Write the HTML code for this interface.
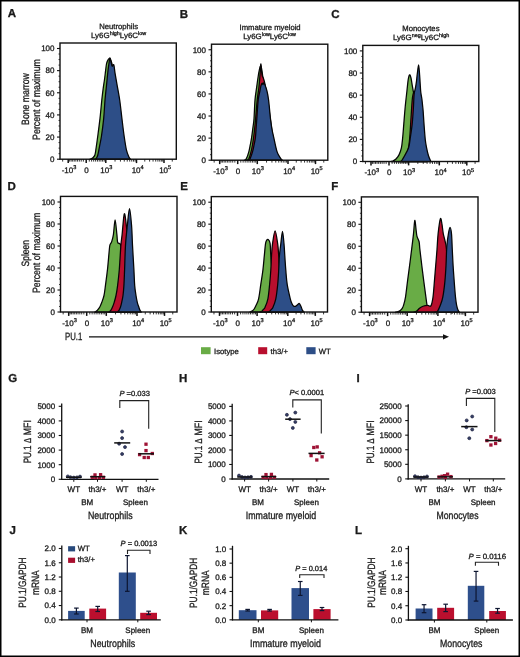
<!DOCTYPE html>
<html><head><meta charset="utf-8"><style>
html,body{margin:0;padding:0;background:#fff;}
svg{display:block;filter:blur(0.3px);font-family:'Liberation Sans', sans-serif;text-rendering:geometricPrecision;}
text{stroke:#1a1a1a;stroke-width:0.3px;}
</style></head><body>
<svg width="520" height="657" viewBox="0 0 520 657">
<rect x="0" y="0" width="520" height="657" fill="#fff"/>
<text x="7.80" y="17.30" font-size="11.5" text-anchor="start" font-weight="bold" font-style="normal" fill="#1a1a1a" >A</text>
<text x="179.80" y="17.50" font-size="11.5" text-anchor="start" font-weight="bold" font-style="normal" fill="#1a1a1a" >B</text>
<text x="331.20" y="17.60" font-size="11.5" text-anchor="start" font-weight="bold" font-style="normal" fill="#1a1a1a" >C</text>
<text x="7.50" y="190.20" font-size="11.5" text-anchor="start" font-weight="bold" font-style="normal" fill="#1a1a1a" >D</text>
<text x="180.20" y="190.20" font-size="11.5" text-anchor="start" font-weight="bold" font-style="normal" fill="#1a1a1a" >E</text>
<text x="331.30" y="190.10" font-size="11.5" text-anchor="start" font-weight="bold" font-style="normal" fill="#1a1a1a" >F</text>
<text x="8.20" y="382.20" font-size="11.5" text-anchor="start" font-weight="bold" font-style="normal" fill="#1a1a1a" >G</text>
<text x="178.90" y="381.60" font-size="11.5" text-anchor="start" font-weight="bold" font-style="normal" fill="#1a1a1a" >H</text>
<text x="356.60" y="381.80" font-size="11.5" text-anchor="start" font-weight="bold" font-style="normal" fill="#1a1a1a" >I</text>
<text x="9.40" y="534.30" font-size="11.5" text-anchor="start" font-weight="bold" font-style="normal" fill="#1a1a1a" >J</text>
<text x="178.90" y="533.90" font-size="11.5" text-anchor="start" font-weight="bold" font-style="normal" fill="#1a1a1a" >K</text>
<text x="354.90" y="534.20" font-size="11.5" text-anchor="start" font-weight="bold" font-style="normal" fill="#1a1a1a" >L</text>
<text x="118.70" y="28.80" font-size="7.7" text-anchor="middle" font-weight="normal" font-style="normal" fill="#1a1a1a" >Neutrophils</text>
<text x="118.60" y="38.00" font-size="7.7" text-anchor="middle" fill="#1a1a1a" textLength="55.2" lengthAdjust="spacingAndGlyphs">Ly6G<tspan font-size="5.24" dy="-2.7">high</tspan><tspan dy="2.7">Ly6C</tspan><tspan font-size="5.24" dy="-2.7">low</tspan></text>
<text x="270.10" y="30.00" font-size="7.7" text-anchor="middle" font-weight="normal" font-style="normal" fill="#1a1a1a" >Immature myeloid</text>
<text x="269.60" y="38.90" font-size="7.7" text-anchor="middle" fill="#1a1a1a" textLength="52.8" lengthAdjust="spacingAndGlyphs">Ly6G<tspan font-size="5.24" dy="-2.7">low</tspan><tspan dy="2.7">Ly6C</tspan><tspan font-size="5.24" dy="-2.7">low</tspan></text>
<text x="420.90" y="31.00" font-size="7.7" text-anchor="middle" font-weight="normal" font-style="normal" fill="#1a1a1a" >Monocytes</text>
<text x="421.10" y="40.00" font-size="7.7" text-anchor="middle" fill="#1a1a1a" textLength="56.2" lengthAdjust="spacingAndGlyphs">Ly6G<tspan font-size="5.24" dy="-2.7">neg</tspan><tspan dy="2.7">Ly6C</tspan><tspan font-size="5.24" dy="-2.7">high</tspan></text>
<text x="0" y="0" font-size="10.6" text-anchor="middle" fill="#1a1a1a" textLength="51.7" lengthAdjust="spacingAndGlyphs" transform="translate(28.50,99.05) rotate(-90)">Bone marrow</text>
<text x="0" y="0" font-size="10.6" text-anchor="middle" fill="#1a1a1a" textLength="80.8" lengthAdjust="spacingAndGlyphs" transform="translate(40.00,99.50) rotate(-90)">Percent of maximum</text>
<text x="0" y="0" font-size="10.6" text-anchor="middle" fill="#1a1a1a" textLength="26.4" lengthAdjust="spacingAndGlyphs" transform="translate(28.50,253.20) rotate(-90)">Spleen</text>
<text x="0" y="0" font-size="10.6" text-anchor="middle" fill="#1a1a1a" textLength="80.4" lengthAdjust="spacingAndGlyphs" transform="translate(40.10,252.80) rotate(-90)">Percent of maximum</text>
<path d="M90.00,159.20 C90.00,159.20 89.58,159.38 90.00,159.20 C90.42,159.02 91.68,158.79 92.50,158.09 C93.32,157.39 94.30,156.67 94.90,154.99 C95.50,153.31 95.63,151.10 96.10,148.02 C96.57,144.94 97.05,141.45 97.70,136.51 C98.35,131.56 99.32,124.44 100.00,118.35 C100.68,112.26 101.27,104.98 101.80,99.98 C102.33,94.98 102.75,91.77 103.20,88.35 C103.65,84.94 104.10,82.45 104.50,79.50 C104.90,76.54 105.25,73.32 105.60,70.64 C105.95,67.96 106.17,65.29 106.60,63.44 C107.03,61.60 107.63,60.40 108.20,59.57 C108.77,58.74 109.37,57.72 110.00,58.46 C110.63,59.20 111.25,61.23 112.00,64.00 C112.75,66.77 113.67,70.27 114.50,75.07 C115.33,79.86 116.08,86.14 117.00,92.78 C117.92,99.42 119.00,107.54 120.00,114.92 C121.00,122.30 122.08,131.16 123.00,137.06 C123.92,142.96 124.67,146.93 125.50,150.34 C126.33,153.76 127.33,156.06 128.00,157.54 C128.67,159.02 129.25,158.92 129.50,159.20 C129.75,159.48 129.50,159.20 129.50,159.20 Z" fill="#69ac46" stroke="#050505" stroke-width="1.25" stroke-linejoin="round"/>
<path d="M95.50,159.20 C95.50,159.20 95.32,159.42 95.50,159.20 C95.68,158.98 96.22,158.57 96.60,157.87 C96.98,157.17 97.37,156.64 97.80,154.99 C98.23,153.35 98.60,151.10 99.20,148.02 C99.80,144.94 100.65,141.45 101.40,136.51 C102.15,131.56 103.10,124.44 103.70,118.35 C104.30,112.26 104.50,105.81 105.00,99.98 C105.50,94.15 106.20,88.26 106.70,83.37 C107.20,78.48 107.58,74.24 108.00,70.64 C108.42,67.04 108.85,63.87 109.20,61.78 C109.55,59.70 109.77,57.95 110.10,58.13 C110.43,58.32 110.85,61.54 111.20,62.89 C111.55,64.24 111.77,65.90 112.20,66.21 C112.63,66.53 113.33,63.67 113.80,64.77 C114.27,65.88 114.50,69.75 115.00,72.85 C115.50,75.95 116.02,78.85 116.80,83.37 C117.58,87.89 118.85,94.15 119.70,99.98 C120.55,105.81 121.15,112.26 121.90,118.35 C122.65,124.44 123.43,131.19 124.20,136.51 C124.97,141.82 125.73,146.88 126.50,150.23 C127.27,153.59 128.13,155.16 128.80,156.65 C129.47,158.15 130.22,158.78 130.50,159.20 C130.78,159.62 130.50,159.20 130.50,159.20 Z" fill="#2d4e87" stroke="#050505" stroke-width="1.25" stroke-linejoin="round"/>
<rect x="60.00" y="43.00" width="116.30" height="116.20" fill="none" stroke="#111" stroke-width="1.4"/>
<line x1="57.00" y1="159.20" x2="60.00" y2="159.20" stroke="#111" stroke-width="1.1"/>
<text x="54.50" y="162.00" font-size="8" text-anchor="end" font-weight="normal" font-style="normal" fill="#1a1a1a" >0</text>
<line x1="57.00" y1="137.06" x2="60.00" y2="137.06" stroke="#111" stroke-width="1.1"/>
<text x="54.50" y="139.86" font-size="8" text-anchor="end" font-weight="normal" font-style="normal" fill="#1a1a1a" >20</text>
<line x1="57.00" y1="114.92" x2="60.00" y2="114.92" stroke="#111" stroke-width="1.1"/>
<text x="54.50" y="117.72" font-size="8" text-anchor="end" font-weight="normal" font-style="normal" fill="#1a1a1a" >40</text>
<line x1="57.00" y1="92.78" x2="60.00" y2="92.78" stroke="#111" stroke-width="1.1"/>
<text x="54.50" y="95.58" font-size="8" text-anchor="end" font-weight="normal" font-style="normal" fill="#1a1a1a" >60</text>
<line x1="57.00" y1="70.64" x2="60.00" y2="70.64" stroke="#111" stroke-width="1.1"/>
<text x="54.50" y="73.44" font-size="8" text-anchor="end" font-weight="normal" font-style="normal" fill="#1a1a1a" >80</text>
<line x1="57.00" y1="48.50" x2="60.00" y2="48.50" stroke="#111" stroke-width="1.1"/>
<text x="54.50" y="51.30" font-size="8" text-anchor="end" font-weight="normal" font-style="normal" fill="#1a1a1a" >100</text>
<line x1="58.50" y1="153.66" x2="60.00" y2="153.66" stroke="#111" stroke-width="0.8"/>
<line x1="58.50" y1="148.13" x2="60.00" y2="148.13" stroke="#111" stroke-width="0.8"/>
<line x1="58.50" y1="142.59" x2="60.00" y2="142.59" stroke="#111" stroke-width="0.8"/>
<line x1="58.50" y1="131.52" x2="60.00" y2="131.52" stroke="#111" stroke-width="0.8"/>
<line x1="58.50" y1="125.99" x2="60.00" y2="125.99" stroke="#111" stroke-width="0.8"/>
<line x1="58.50" y1="120.45" x2="60.00" y2="120.45" stroke="#111" stroke-width="0.8"/>
<line x1="58.50" y1="109.38" x2="60.00" y2="109.38" stroke="#111" stroke-width="0.8"/>
<line x1="58.50" y1="103.85" x2="60.00" y2="103.85" stroke="#111" stroke-width="0.8"/>
<line x1="58.50" y1="98.31" x2="60.00" y2="98.31" stroke="#111" stroke-width="0.8"/>
<line x1="58.50" y1="87.24" x2="60.00" y2="87.24" stroke="#111" stroke-width="0.8"/>
<line x1="58.50" y1="81.71" x2="60.00" y2="81.71" stroke="#111" stroke-width="0.8"/>
<line x1="58.50" y1="76.17" x2="60.00" y2="76.17" stroke="#111" stroke-width="0.8"/>
<line x1="58.50" y1="65.10" x2="60.00" y2="65.10" stroke="#111" stroke-width="0.8"/>
<line x1="58.50" y1="59.57" x2="60.00" y2="59.57" stroke="#111" stroke-width="0.8"/>
<line x1="58.50" y1="54.03" x2="60.00" y2="54.03" stroke="#111" stroke-width="0.8"/>
<line x1="68.20" y1="159.20" x2="68.20" y2="163.10" stroke="#111" stroke-width="1.5"/>
<line x1="86.20" y1="159.20" x2="86.20" y2="163.10" stroke="#111" stroke-width="1.5"/>
<line x1="105.80" y1="159.20" x2="105.80" y2="163.10" stroke="#111" stroke-width="1.5"/>
<line x1="136.50" y1="159.20" x2="136.50" y2="163.10" stroke="#111" stroke-width="1.5"/>
<line x1="164.00" y1="159.20" x2="164.00" y2="163.10" stroke="#111" stroke-width="1.5"/>
<line x1="115.04" y1="159.20" x2="115.04" y2="161.60" stroke="#111" stroke-width="0.85"/>
<line x1="144.78" y1="159.20" x2="144.78" y2="161.60" stroke="#111" stroke-width="0.85"/>
<line x1="120.45" y1="159.20" x2="120.45" y2="161.60" stroke="#111" stroke-width="0.85"/>
<line x1="149.62" y1="159.20" x2="149.62" y2="161.60" stroke="#111" stroke-width="0.85"/>
<line x1="124.28" y1="159.20" x2="124.28" y2="161.60" stroke="#111" stroke-width="0.85"/>
<line x1="153.06" y1="159.20" x2="153.06" y2="161.60" stroke="#111" stroke-width="0.85"/>
<line x1="127.26" y1="159.20" x2="127.26" y2="161.60" stroke="#111" stroke-width="0.85"/>
<line x1="155.72" y1="159.20" x2="155.72" y2="161.60" stroke="#111" stroke-width="0.85"/>
<line x1="129.69" y1="159.20" x2="129.69" y2="161.60" stroke="#111" stroke-width="0.85"/>
<line x1="157.90" y1="159.20" x2="157.90" y2="161.60" stroke="#111" stroke-width="0.85"/>
<line x1="131.74" y1="159.20" x2="131.74" y2="161.60" stroke="#111" stroke-width="0.85"/>
<line x1="159.74" y1="159.20" x2="159.74" y2="161.60" stroke="#111" stroke-width="0.85"/>
<line x1="133.52" y1="159.20" x2="133.52" y2="161.60" stroke="#111" stroke-width="0.85"/>
<line x1="161.33" y1="159.20" x2="161.33" y2="161.60" stroke="#111" stroke-width="0.85"/>
<line x1="135.10" y1="159.20" x2="135.10" y2="161.60" stroke="#111" stroke-width="0.85"/>
<line x1="162.74" y1="159.20" x2="162.74" y2="161.60" stroke="#111" stroke-width="0.85"/>
<line x1="172.28" y1="159.20" x2="172.28" y2="161.60" stroke="#111" stroke-width="0.85"/>
<line x1="89.31" y1="159.20" x2="89.31" y2="161.60" stroke="#111" stroke-width="0.85"/>
<line x1="83.35" y1="159.20" x2="83.35" y2="161.60" stroke="#111" stroke-width="0.85"/>
<line x1="91.61" y1="159.20" x2="91.61" y2="161.60" stroke="#111" stroke-width="0.85"/>
<line x1="81.23" y1="159.20" x2="81.23" y2="161.60" stroke="#111" stroke-width="0.85"/>
<line x1="93.68" y1="159.20" x2="93.68" y2="161.60" stroke="#111" stroke-width="0.85"/>
<line x1="79.33" y1="159.20" x2="79.33" y2="161.60" stroke="#111" stroke-width="0.85"/>
<line x1="95.62" y1="159.20" x2="95.62" y2="161.60" stroke="#111" stroke-width="0.85"/>
<line x1="77.55" y1="159.20" x2="77.55" y2="161.60" stroke="#111" stroke-width="0.85"/>
<line x1="97.46" y1="159.20" x2="97.46" y2="161.60" stroke="#111" stroke-width="0.85"/>
<line x1="75.86" y1="159.20" x2="75.86" y2="161.60" stroke="#111" stroke-width="0.85"/>
<line x1="99.22" y1="159.20" x2="99.22" y2="161.60" stroke="#111" stroke-width="0.85"/>
<line x1="74.24" y1="159.20" x2="74.24" y2="161.60" stroke="#111" stroke-width="0.85"/>
<line x1="100.93" y1="159.20" x2="100.93" y2="161.60" stroke="#111" stroke-width="0.85"/>
<line x1="72.67" y1="159.20" x2="72.67" y2="161.60" stroke="#111" stroke-width="0.85"/>
<line x1="102.60" y1="159.20" x2="102.60" y2="161.60" stroke="#111" stroke-width="0.85"/>
<line x1="71.14" y1="159.20" x2="71.14" y2="161.60" stroke="#111" stroke-width="0.85"/>
<line x1="104.22" y1="159.20" x2="104.22" y2="161.60" stroke="#111" stroke-width="0.85"/>
<line x1="69.66" y1="159.20" x2="69.66" y2="161.60" stroke="#111" stroke-width="0.85"/>
<line x1="62.66" y1="159.20" x2="62.66" y2="161.60" stroke="#111" stroke-width="0.85"/>
<text x="69.00" y="172.70" font-size="8" text-anchor="middle" fill="#1a1a1a">-10<tspan font-size="5.6" dy="-3.3">3</tspan></text>
<text x="86.50" y="172.70" font-size="8" text-anchor="middle" font-weight="normal" font-style="normal" fill="#1a1a1a" >0</text>
<text x="106.30" y="172.70" font-size="8" text-anchor="middle" fill="#1a1a1a">10<tspan font-size="5.6" dy="-3.3">3</tspan></text>
<text x="137.70" y="172.70" font-size="8" text-anchor="middle" fill="#1a1a1a">10<tspan font-size="5.6" dy="-3.3">4</tspan></text>
<text x="165.20" y="172.70" font-size="8" text-anchor="middle" fill="#1a1a1a">10<tspan font-size="5.6" dy="-3.3">5</tspan></text>
<path d="M244.50,160.20 C244.50,160.20 244.18,160.48 244.50,160.20 C244.82,159.92 245.68,159.92 246.40,158.54 C247.12,157.16 248.15,154.22 248.80,151.92 C249.45,149.62 249.83,147.11 250.30,144.74 C250.77,142.36 251.15,140.61 251.60,137.67 C252.05,134.72 252.60,130.19 253.00,127.06 C253.40,123.94 253.67,123.40 254.00,118.89 C254.33,114.38 254.57,105.21 255.00,100.00 C255.43,94.80 256.07,91.59 256.60,87.63 C257.13,83.68 257.73,79.26 258.20,76.26 C258.67,73.26 259.02,71.38 259.40,69.63 C259.78,67.88 260.13,65.95 260.50,65.77 C260.87,65.58 261.18,66.41 261.60,68.53 C262.02,70.64 262.43,74.23 263.00,78.47 C263.57,82.70 264.25,88.04 265.00,93.93 C265.75,99.82 266.67,107.37 267.50,113.81 C268.33,120.25 269.08,126.70 270.00,132.59 C270.92,138.48 272.00,145.01 273.00,149.16 C274.00,153.30 275.00,155.60 276.00,157.44 C277.00,159.28 278.50,159.74 279.00,160.20 C279.50,160.66 279.00,160.20 279.00,160.20 Z" fill="#69ac46" stroke="#050505" stroke-width="1.25" stroke-linejoin="round"/>
<path d="M247.50,160.20 C247.50,160.20 247.25,160.48 247.50,160.20 C247.75,159.92 248.42,159.92 249.00,158.54 C249.58,157.16 250.42,154.22 251.00,151.92 C251.58,149.62 252.07,147.11 252.50,144.74 C252.93,142.36 253.22,140.61 253.60,137.67 C253.98,134.72 254.47,130.19 254.80,127.06 C255.13,123.94 255.20,123.40 255.60,118.89 C256.00,114.38 256.65,105.21 257.20,100.00 C257.75,94.80 258.45,91.59 258.90,87.63 C259.35,83.68 259.58,80.20 259.90,76.26 C260.22,72.32 260.52,64.73 260.80,64.00 C261.08,63.26 261.33,69.80 261.60,71.84 C261.87,73.88 262.12,75.25 262.40,76.26 C262.68,77.27 262.98,77.09 263.30,77.91 C263.62,78.74 263.92,79.66 264.30,81.23 C264.68,82.79 265.18,85.19 265.60,87.30 C266.02,89.42 266.32,90.98 266.80,93.93 C267.28,96.88 267.88,100.56 268.50,104.97 C269.12,109.39 269.75,115.10 270.50,120.44 C271.25,125.78 271.92,131.58 273.00,137.01 C274.08,142.44 275.67,149.16 277.00,153.02 C278.33,156.89 280.33,159.00 281.00,160.20 C281.67,161.40 281.00,160.20 281.00,160.20 Z" fill="#b80f2e" stroke="#050505" stroke-width="1.25" stroke-linejoin="round"/>
<path d="M249.00,160.20 C249.00,160.20 248.80,160.48 249.00,160.20 C249.20,159.92 249.62,159.92 250.20,158.54 C250.78,157.16 251.85,154.22 252.50,151.92 C253.15,149.62 253.62,147.11 254.10,144.74 C254.58,142.36 255.05,140.61 255.40,137.67 C255.75,134.72 255.97,130.19 256.20,127.06 C256.43,123.94 256.47,123.40 256.80,118.89 C257.13,114.38 257.67,104.72 258.20,100.00 C258.73,95.29 259.53,93.01 260.00,90.62 C260.47,88.22 260.63,86.90 261.00,85.65 C261.37,84.39 261.87,83.29 262.20,83.11 C262.53,82.92 262.73,84.63 263.00,84.54 C263.27,84.45 263.50,82.55 263.80,82.55 C264.10,82.55 264.28,83.20 264.80,84.54 C265.32,85.89 266.27,88.04 266.90,90.62 C267.53,93.19 268.00,95.29 268.60,100.00 C269.20,104.72 269.93,114.01 270.50,118.89 C271.07,123.77 271.45,126.14 272.00,129.27 C272.55,132.40 272.95,133.89 273.80,137.67 C274.65,141.44 275.93,148.44 277.10,151.92 C278.27,155.40 279.90,157.16 280.80,158.54 C281.70,159.92 282.22,159.92 282.50,160.20 C282.78,160.48 282.50,160.20 282.50,160.20 Z" fill="#2d4e87" stroke="#050505" stroke-width="1.25" stroke-linejoin="round"/>
<rect x="211.50" y="44.20" width="116.30" height="116.00" fill="none" stroke="#111" stroke-width="1.4"/>
<line x1="208.50" y1="160.20" x2="211.50" y2="160.20" stroke="#111" stroke-width="1.1"/>
<text x="206.00" y="163.00" font-size="8" text-anchor="end" font-weight="normal" font-style="normal" fill="#1a1a1a" >0</text>
<line x1="208.50" y1="138.11" x2="211.50" y2="138.11" stroke="#111" stroke-width="1.1"/>
<text x="206.00" y="140.91" font-size="8" text-anchor="end" font-weight="normal" font-style="normal" fill="#1a1a1a" >20</text>
<line x1="208.50" y1="116.02" x2="211.50" y2="116.02" stroke="#111" stroke-width="1.1"/>
<text x="206.00" y="118.82" font-size="8" text-anchor="end" font-weight="normal" font-style="normal" fill="#1a1a1a" >40</text>
<line x1="208.50" y1="93.93" x2="211.50" y2="93.93" stroke="#111" stroke-width="1.1"/>
<text x="206.00" y="96.73" font-size="8" text-anchor="end" font-weight="normal" font-style="normal" fill="#1a1a1a" >60</text>
<line x1="208.50" y1="71.84" x2="211.50" y2="71.84" stroke="#111" stroke-width="1.1"/>
<text x="206.00" y="74.64" font-size="8" text-anchor="end" font-weight="normal" font-style="normal" fill="#1a1a1a" >80</text>
<line x1="208.50" y1="49.75" x2="211.50" y2="49.75" stroke="#111" stroke-width="1.1"/>
<text x="206.00" y="52.55" font-size="8" text-anchor="end" font-weight="normal" font-style="normal" fill="#1a1a1a" >100</text>
<line x1="210.00" y1="154.68" x2="211.50" y2="154.68" stroke="#111" stroke-width="0.8"/>
<line x1="210.00" y1="149.16" x2="211.50" y2="149.16" stroke="#111" stroke-width="0.8"/>
<line x1="210.00" y1="143.63" x2="211.50" y2="143.63" stroke="#111" stroke-width="0.8"/>
<line x1="210.00" y1="132.59" x2="211.50" y2="132.59" stroke="#111" stroke-width="0.8"/>
<line x1="210.00" y1="127.06" x2="211.50" y2="127.06" stroke="#111" stroke-width="0.8"/>
<line x1="210.00" y1="121.54" x2="211.50" y2="121.54" stroke="#111" stroke-width="0.8"/>
<line x1="210.00" y1="110.50" x2="211.50" y2="110.50" stroke="#111" stroke-width="0.8"/>
<line x1="210.00" y1="104.97" x2="211.50" y2="104.97" stroke="#111" stroke-width="0.8"/>
<line x1="210.00" y1="99.45" x2="211.50" y2="99.45" stroke="#111" stroke-width="0.8"/>
<line x1="210.00" y1="88.41" x2="211.50" y2="88.41" stroke="#111" stroke-width="0.8"/>
<line x1="210.00" y1="82.89" x2="211.50" y2="82.89" stroke="#111" stroke-width="0.8"/>
<line x1="210.00" y1="77.36" x2="211.50" y2="77.36" stroke="#111" stroke-width="0.8"/>
<line x1="210.00" y1="66.32" x2="211.50" y2="66.32" stroke="#111" stroke-width="0.8"/>
<line x1="210.00" y1="60.80" x2="211.50" y2="60.80" stroke="#111" stroke-width="0.8"/>
<line x1="210.00" y1="55.27" x2="211.50" y2="55.27" stroke="#111" stroke-width="0.8"/>
<line x1="219.70" y1="160.20" x2="219.70" y2="164.10" stroke="#111" stroke-width="1.5"/>
<line x1="237.70" y1="160.20" x2="237.70" y2="164.10" stroke="#111" stroke-width="1.5"/>
<line x1="257.30" y1="160.20" x2="257.30" y2="164.10" stroke="#111" stroke-width="1.5"/>
<line x1="288.00" y1="160.20" x2="288.00" y2="164.10" stroke="#111" stroke-width="1.5"/>
<line x1="315.50" y1="160.20" x2="315.50" y2="164.10" stroke="#111" stroke-width="1.5"/>
<line x1="266.54" y1="160.20" x2="266.54" y2="162.60" stroke="#111" stroke-width="0.85"/>
<line x1="296.28" y1="160.20" x2="296.28" y2="162.60" stroke="#111" stroke-width="0.85"/>
<line x1="271.95" y1="160.20" x2="271.95" y2="162.60" stroke="#111" stroke-width="0.85"/>
<line x1="301.12" y1="160.20" x2="301.12" y2="162.60" stroke="#111" stroke-width="0.85"/>
<line x1="275.78" y1="160.20" x2="275.78" y2="162.60" stroke="#111" stroke-width="0.85"/>
<line x1="304.56" y1="160.20" x2="304.56" y2="162.60" stroke="#111" stroke-width="0.85"/>
<line x1="278.76" y1="160.20" x2="278.76" y2="162.60" stroke="#111" stroke-width="0.85"/>
<line x1="307.22" y1="160.20" x2="307.22" y2="162.60" stroke="#111" stroke-width="0.85"/>
<line x1="281.19" y1="160.20" x2="281.19" y2="162.60" stroke="#111" stroke-width="0.85"/>
<line x1="309.40" y1="160.20" x2="309.40" y2="162.60" stroke="#111" stroke-width="0.85"/>
<line x1="283.24" y1="160.20" x2="283.24" y2="162.60" stroke="#111" stroke-width="0.85"/>
<line x1="311.24" y1="160.20" x2="311.24" y2="162.60" stroke="#111" stroke-width="0.85"/>
<line x1="285.02" y1="160.20" x2="285.02" y2="162.60" stroke="#111" stroke-width="0.85"/>
<line x1="312.83" y1="160.20" x2="312.83" y2="162.60" stroke="#111" stroke-width="0.85"/>
<line x1="286.60" y1="160.20" x2="286.60" y2="162.60" stroke="#111" stroke-width="0.85"/>
<line x1="314.24" y1="160.20" x2="314.24" y2="162.60" stroke="#111" stroke-width="0.85"/>
<line x1="323.78" y1="160.20" x2="323.78" y2="162.60" stroke="#111" stroke-width="0.85"/>
<line x1="240.81" y1="160.20" x2="240.81" y2="162.60" stroke="#111" stroke-width="0.85"/>
<line x1="234.85" y1="160.20" x2="234.85" y2="162.60" stroke="#111" stroke-width="0.85"/>
<line x1="243.11" y1="160.20" x2="243.11" y2="162.60" stroke="#111" stroke-width="0.85"/>
<line x1="232.73" y1="160.20" x2="232.73" y2="162.60" stroke="#111" stroke-width="0.85"/>
<line x1="245.18" y1="160.20" x2="245.18" y2="162.60" stroke="#111" stroke-width="0.85"/>
<line x1="230.83" y1="160.20" x2="230.83" y2="162.60" stroke="#111" stroke-width="0.85"/>
<line x1="247.12" y1="160.20" x2="247.12" y2="162.60" stroke="#111" stroke-width="0.85"/>
<line x1="229.05" y1="160.20" x2="229.05" y2="162.60" stroke="#111" stroke-width="0.85"/>
<line x1="248.96" y1="160.20" x2="248.96" y2="162.60" stroke="#111" stroke-width="0.85"/>
<line x1="227.36" y1="160.20" x2="227.36" y2="162.60" stroke="#111" stroke-width="0.85"/>
<line x1="250.72" y1="160.20" x2="250.72" y2="162.60" stroke="#111" stroke-width="0.85"/>
<line x1="225.74" y1="160.20" x2="225.74" y2="162.60" stroke="#111" stroke-width="0.85"/>
<line x1="252.43" y1="160.20" x2="252.43" y2="162.60" stroke="#111" stroke-width="0.85"/>
<line x1="224.17" y1="160.20" x2="224.17" y2="162.60" stroke="#111" stroke-width="0.85"/>
<line x1="254.10" y1="160.20" x2="254.10" y2="162.60" stroke="#111" stroke-width="0.85"/>
<line x1="222.64" y1="160.20" x2="222.64" y2="162.60" stroke="#111" stroke-width="0.85"/>
<line x1="255.72" y1="160.20" x2="255.72" y2="162.60" stroke="#111" stroke-width="0.85"/>
<line x1="221.16" y1="160.20" x2="221.16" y2="162.60" stroke="#111" stroke-width="0.85"/>
<line x1="214.16" y1="160.20" x2="214.16" y2="162.60" stroke="#111" stroke-width="0.85"/>
<text x="220.50" y="173.70" font-size="8" text-anchor="middle" fill="#1a1a1a">-10<tspan font-size="5.6" dy="-3.3">3</tspan></text>
<text x="238.00" y="173.70" font-size="8" text-anchor="middle" font-weight="normal" font-style="normal" fill="#1a1a1a" >0</text>
<text x="257.80" y="173.70" font-size="8" text-anchor="middle" fill="#1a1a1a">10<tspan font-size="5.6" dy="-3.3">3</tspan></text>
<text x="289.20" y="173.70" font-size="8" text-anchor="middle" fill="#1a1a1a">10<tspan font-size="5.6" dy="-3.3">4</tspan></text>
<text x="316.70" y="173.70" font-size="8" text-anchor="middle" fill="#1a1a1a">10<tspan font-size="5.6" dy="-3.3">5</tspan></text>
<path d="M391.00,161.50 C391.00,161.50 390.67,161.59 391.00,161.50 C391.33,161.41 392.17,161.37 393.00,160.95 C393.83,160.52 395.00,159.97 396.00,158.96 C397.00,157.94 398.10,156.73 399.00,154.86 C399.90,153.00 400.80,150.53 401.40,147.79 C402.00,145.04 402.20,142.37 402.60,138.38 C403.00,134.40 403.37,129.13 403.80,123.90 C404.23,118.66 404.68,112.41 405.20,106.97 C405.72,101.54 406.40,95.82 406.90,91.27 C407.40,86.72 407.75,82.38 408.20,79.66 C408.65,76.93 409.13,75.18 409.60,74.90 C410.07,74.62 410.57,76.28 411.00,78.00 C411.43,79.71 411.82,82.97 412.20,85.19 C412.58,87.40 412.90,89.24 413.30,91.27 C413.70,93.30 414.15,94.86 414.60,97.35 C415.05,99.84 415.43,102.14 416.00,106.20 C416.57,110.26 417.33,116.15 418.00,121.68 C418.67,127.21 419.33,134.22 420.00,139.38 C420.67,144.54 421.33,149.33 422.00,152.65 C422.67,155.97 423.33,157.81 424.00,159.29 C424.67,160.76 425.67,161.13 426.00,161.50 C426.33,161.87 426.00,161.50 426.00,161.50 Z" fill="#69ac46" stroke="#050505" stroke-width="1.25" stroke-linejoin="round"/>
<path d="M402.00,161.50 C402.00,161.50 401.58,161.87 402.00,161.50 C402.42,161.13 403.67,160.49 404.50,159.29 C405.33,158.09 406.25,156.71 407.00,154.31 C407.75,151.91 408.50,148.32 409.00,144.91 C409.50,141.50 409.72,137.54 410.00,133.85 C410.28,130.16 410.42,127.27 410.70,122.79 C410.98,118.31 411.40,111.21 411.70,106.97 C412.00,102.73 412.18,99.79 412.50,97.35 C412.82,94.92 413.25,93.17 413.60,92.38 C413.95,91.58 414.20,91.40 414.60,92.60 C415.00,93.79 415.43,95.82 416.00,99.56 C416.57,103.31 417.33,109.33 418.00,115.05 C418.67,120.76 419.25,127.95 420.00,133.85 C420.75,139.75 421.67,146.20 422.50,150.44 C423.33,154.68 424.25,157.44 425.00,159.29 C425.75,161.13 426.67,161.13 427.00,161.50 C427.33,161.87 427.00,161.50 427.00,161.50 Z" fill="#b80f2e" stroke="#050505" stroke-width="1.25" stroke-linejoin="round"/>
<path d="M399.50,161.50 C399.50,161.50 399.18,161.59 399.50,161.50 C399.82,161.41 400.55,161.91 401.40,160.95 C402.25,159.99 403.40,157.94 404.60,155.75 C405.80,153.56 407.67,150.68 408.60,147.79 C409.53,144.89 409.60,142.37 410.20,138.38 C410.80,134.40 411.67,128.95 412.20,123.90 C412.73,118.85 413.08,113.00 413.40,108.08 C413.72,103.16 413.77,97.68 414.10,94.37 C414.43,91.05 415.02,90.26 415.40,88.17 C415.78,86.09 416.10,84.12 416.40,81.87 C416.70,79.62 416.83,77.50 417.20,74.68 C417.57,71.86 418.20,64.95 418.60,64.95 C419.00,64.95 419.33,71.49 419.60,74.68 C419.87,77.87 420.00,81.13 420.20,84.08 C420.40,87.03 420.52,89.89 420.80,92.38 C421.08,94.86 421.60,96.80 421.90,99.01 C422.20,101.22 422.38,103.53 422.60,105.65 C422.82,107.77 422.97,108.69 423.20,111.73 C423.43,114.77 423.65,119.21 424.00,123.90 C424.35,128.58 424.87,135.84 425.30,139.82 C425.73,143.80 426.07,145.13 426.60,147.79 C427.13,150.44 427.78,153.46 428.50,155.75 C429.22,158.03 430.50,160.54 430.90,161.50 C431.30,162.46 430.90,161.50 430.90,161.50 Z" fill="#2d4e87" stroke="#050505" stroke-width="1.25" stroke-linejoin="round"/>
<rect x="362.80" y="45.40" width="116.00" height="116.10" fill="none" stroke="#111" stroke-width="1.4"/>
<line x1="359.80" y1="161.50" x2="362.80" y2="161.50" stroke="#111" stroke-width="1.1"/>
<text x="357.30" y="164.30" font-size="8" text-anchor="end" font-weight="normal" font-style="normal" fill="#1a1a1a" >0</text>
<line x1="359.80" y1="139.38" x2="362.80" y2="139.38" stroke="#111" stroke-width="1.1"/>
<text x="357.30" y="142.18" font-size="8" text-anchor="end" font-weight="normal" font-style="normal" fill="#1a1a1a" >20</text>
<line x1="359.80" y1="117.26" x2="362.80" y2="117.26" stroke="#111" stroke-width="1.1"/>
<text x="357.30" y="120.06" font-size="8" text-anchor="end" font-weight="normal" font-style="normal" fill="#1a1a1a" >40</text>
<line x1="359.80" y1="95.14" x2="362.80" y2="95.14" stroke="#111" stroke-width="1.1"/>
<text x="357.30" y="97.94" font-size="8" text-anchor="end" font-weight="normal" font-style="normal" fill="#1a1a1a" >60</text>
<line x1="359.80" y1="73.02" x2="362.80" y2="73.02" stroke="#111" stroke-width="1.1"/>
<text x="357.30" y="75.82" font-size="8" text-anchor="end" font-weight="normal" font-style="normal" fill="#1a1a1a" >80</text>
<line x1="359.80" y1="50.90" x2="362.80" y2="50.90" stroke="#111" stroke-width="1.1"/>
<text x="357.30" y="53.70" font-size="8" text-anchor="end" font-weight="normal" font-style="normal" fill="#1a1a1a" >100</text>
<line x1="361.30" y1="155.97" x2="362.80" y2="155.97" stroke="#111" stroke-width="0.8"/>
<line x1="361.30" y1="150.44" x2="362.80" y2="150.44" stroke="#111" stroke-width="0.8"/>
<line x1="361.30" y1="144.91" x2="362.80" y2="144.91" stroke="#111" stroke-width="0.8"/>
<line x1="361.30" y1="133.85" x2="362.80" y2="133.85" stroke="#111" stroke-width="0.8"/>
<line x1="361.30" y1="128.32" x2="362.80" y2="128.32" stroke="#111" stroke-width="0.8"/>
<line x1="361.30" y1="122.79" x2="362.80" y2="122.79" stroke="#111" stroke-width="0.8"/>
<line x1="361.30" y1="111.73" x2="362.80" y2="111.73" stroke="#111" stroke-width="0.8"/>
<line x1="361.30" y1="106.20" x2="362.80" y2="106.20" stroke="#111" stroke-width="0.8"/>
<line x1="361.30" y1="100.67" x2="362.80" y2="100.67" stroke="#111" stroke-width="0.8"/>
<line x1="361.30" y1="89.61" x2="362.80" y2="89.61" stroke="#111" stroke-width="0.8"/>
<line x1="361.30" y1="84.08" x2="362.80" y2="84.08" stroke="#111" stroke-width="0.8"/>
<line x1="361.30" y1="78.55" x2="362.80" y2="78.55" stroke="#111" stroke-width="0.8"/>
<line x1="361.30" y1="67.49" x2="362.80" y2="67.49" stroke="#111" stroke-width="0.8"/>
<line x1="361.30" y1="61.96" x2="362.80" y2="61.96" stroke="#111" stroke-width="0.8"/>
<line x1="361.30" y1="56.43" x2="362.80" y2="56.43" stroke="#111" stroke-width="0.8"/>
<line x1="371.00" y1="161.50" x2="371.00" y2="165.40" stroke="#111" stroke-width="1.5"/>
<line x1="389.00" y1="161.50" x2="389.00" y2="165.40" stroke="#111" stroke-width="1.5"/>
<line x1="408.60" y1="161.50" x2="408.60" y2="165.40" stroke="#111" stroke-width="1.5"/>
<line x1="439.30" y1="161.50" x2="439.30" y2="165.40" stroke="#111" stroke-width="1.5"/>
<line x1="466.80" y1="161.50" x2="466.80" y2="165.40" stroke="#111" stroke-width="1.5"/>
<line x1="417.84" y1="161.50" x2="417.84" y2="163.90" stroke="#111" stroke-width="0.85"/>
<line x1="447.58" y1="161.50" x2="447.58" y2="163.90" stroke="#111" stroke-width="0.85"/>
<line x1="423.25" y1="161.50" x2="423.25" y2="163.90" stroke="#111" stroke-width="0.85"/>
<line x1="452.42" y1="161.50" x2="452.42" y2="163.90" stroke="#111" stroke-width="0.85"/>
<line x1="427.08" y1="161.50" x2="427.08" y2="163.90" stroke="#111" stroke-width="0.85"/>
<line x1="455.86" y1="161.50" x2="455.86" y2="163.90" stroke="#111" stroke-width="0.85"/>
<line x1="430.06" y1="161.50" x2="430.06" y2="163.90" stroke="#111" stroke-width="0.85"/>
<line x1="458.52" y1="161.50" x2="458.52" y2="163.90" stroke="#111" stroke-width="0.85"/>
<line x1="432.49" y1="161.50" x2="432.49" y2="163.90" stroke="#111" stroke-width="0.85"/>
<line x1="460.70" y1="161.50" x2="460.70" y2="163.90" stroke="#111" stroke-width="0.85"/>
<line x1="434.54" y1="161.50" x2="434.54" y2="163.90" stroke="#111" stroke-width="0.85"/>
<line x1="462.54" y1="161.50" x2="462.54" y2="163.90" stroke="#111" stroke-width="0.85"/>
<line x1="436.32" y1="161.50" x2="436.32" y2="163.90" stroke="#111" stroke-width="0.85"/>
<line x1="464.13" y1="161.50" x2="464.13" y2="163.90" stroke="#111" stroke-width="0.85"/>
<line x1="437.90" y1="161.50" x2="437.90" y2="163.90" stroke="#111" stroke-width="0.85"/>
<line x1="465.54" y1="161.50" x2="465.54" y2="163.90" stroke="#111" stroke-width="0.85"/>
<line x1="475.08" y1="161.50" x2="475.08" y2="163.90" stroke="#111" stroke-width="0.85"/>
<line x1="392.11" y1="161.50" x2="392.11" y2="163.90" stroke="#111" stroke-width="0.85"/>
<line x1="386.15" y1="161.50" x2="386.15" y2="163.90" stroke="#111" stroke-width="0.85"/>
<line x1="394.41" y1="161.50" x2="394.41" y2="163.90" stroke="#111" stroke-width="0.85"/>
<line x1="384.03" y1="161.50" x2="384.03" y2="163.90" stroke="#111" stroke-width="0.85"/>
<line x1="396.48" y1="161.50" x2="396.48" y2="163.90" stroke="#111" stroke-width="0.85"/>
<line x1="382.13" y1="161.50" x2="382.13" y2="163.90" stroke="#111" stroke-width="0.85"/>
<line x1="398.42" y1="161.50" x2="398.42" y2="163.90" stroke="#111" stroke-width="0.85"/>
<line x1="380.35" y1="161.50" x2="380.35" y2="163.90" stroke="#111" stroke-width="0.85"/>
<line x1="400.26" y1="161.50" x2="400.26" y2="163.90" stroke="#111" stroke-width="0.85"/>
<line x1="378.66" y1="161.50" x2="378.66" y2="163.90" stroke="#111" stroke-width="0.85"/>
<line x1="402.02" y1="161.50" x2="402.02" y2="163.90" stroke="#111" stroke-width="0.85"/>
<line x1="377.04" y1="161.50" x2="377.04" y2="163.90" stroke="#111" stroke-width="0.85"/>
<line x1="403.73" y1="161.50" x2="403.73" y2="163.90" stroke="#111" stroke-width="0.85"/>
<line x1="375.47" y1="161.50" x2="375.47" y2="163.90" stroke="#111" stroke-width="0.85"/>
<line x1="405.40" y1="161.50" x2="405.40" y2="163.90" stroke="#111" stroke-width="0.85"/>
<line x1="373.94" y1="161.50" x2="373.94" y2="163.90" stroke="#111" stroke-width="0.85"/>
<line x1="407.02" y1="161.50" x2="407.02" y2="163.90" stroke="#111" stroke-width="0.85"/>
<line x1="372.46" y1="161.50" x2="372.46" y2="163.90" stroke="#111" stroke-width="0.85"/>
<line x1="365.46" y1="161.50" x2="365.46" y2="163.90" stroke="#111" stroke-width="0.85"/>
<text x="371.80" y="175.00" font-size="8" text-anchor="middle" fill="#1a1a1a">-10<tspan font-size="5.6" dy="-3.3">3</tspan></text>
<text x="389.30" y="175.00" font-size="8" text-anchor="middle" font-weight="normal" font-style="normal" fill="#1a1a1a" >0</text>
<text x="409.10" y="175.00" font-size="8" text-anchor="middle" fill="#1a1a1a">10<tspan font-size="5.6" dy="-3.3">3</tspan></text>
<text x="440.50" y="175.00" font-size="8" text-anchor="middle" fill="#1a1a1a">10<tspan font-size="5.6" dy="-3.3">4</tspan></text>
<text x="468.00" y="175.00" font-size="8" text-anchor="middle" fill="#1a1a1a">10<tspan font-size="5.6" dy="-3.3">5</tspan></text>
<path d="M95.00,312.00 C95.00,312.00 94.62,312.27 95.00,312.00 C95.38,311.73 96.50,311.18 97.30,310.35 C98.10,309.53 99.05,308.39 99.80,307.05 C100.55,305.71 101.10,304.25 101.80,302.32 C102.50,300.39 103.38,298.38 104.00,295.50 C104.62,292.62 104.92,289.39 105.50,285.05 C106.08,280.71 106.90,274.93 107.50,269.43 C108.10,263.93 108.70,256.10 109.10,252.05 C109.50,248.00 109.47,246.86 109.90,245.12 C110.33,243.38 111.12,243.34 111.70,241.60 C112.28,239.86 112.83,238.30 113.40,234.67 C113.97,231.04 114.52,219.82 115.10,219.82 C115.68,219.82 116.47,230.89 116.90,234.67 C117.33,238.45 117.13,240.88 117.70,242.48 C118.27,244.07 119.58,242.74 120.30,244.24 C121.02,245.74 121.38,247.54 122.00,251.50 C122.62,255.46 123.33,261.95 124.00,268.00 C124.67,274.05 125.33,281.93 126.00,287.80 C126.67,293.67 127.33,299.17 128.00,303.20 C128.67,307.23 129.67,310.53 130.00,312.00 C130.33,313.47 130.00,312.00 130.00,312.00 Z" fill="#69ac46" stroke="#050505" stroke-width="1.25" stroke-linejoin="round"/>
<path d="M109.00,312.00 C109.00,312.00 108.70,312.27 109.00,312.00 C109.30,311.73 110.22,311.18 110.80,310.35 C111.38,309.53 111.93,308.39 112.50,307.05 C113.07,305.71 113.62,304.25 114.20,302.32 C114.78,300.39 115.43,298.29 116.00,295.50 C116.57,292.71 117.05,289.95 117.60,285.60 C118.15,281.25 118.75,276.18 119.30,269.43 C119.85,262.68 120.43,250.91 120.90,245.12 C121.37,239.33 121.53,239.88 122.10,234.67 C122.67,229.46 123.58,215.33 124.30,213.88 C125.02,212.43 125.87,221.54 126.40,225.98 C126.93,230.42 127.07,234.41 127.50,240.50 C127.93,246.59 128.42,255.17 129.00,262.50 C129.58,269.83 130.25,277.72 131.00,284.50 C131.75,291.28 132.67,298.62 133.50,303.20 C134.33,307.78 135.58,310.53 136.00,312.00 C136.42,313.47 136.00,312.00 136.00,312.00 Z" fill="#b80f2e" stroke="#050505" stroke-width="1.25" stroke-linejoin="round"/>
<path d="M117.50,312.00 C117.50,312.00 117.25,312.27 117.50,312.00 C117.75,311.73 118.50,311.18 119.00,310.35 C119.50,309.53 120.05,308.39 120.50,307.05 C120.95,305.71 121.28,304.25 121.70,302.32 C122.12,300.39 122.63,298.29 123.00,295.50 C123.37,292.71 123.63,289.95 123.90,285.60 C124.17,281.25 124.33,276.18 124.60,269.43 C124.87,262.68 125.05,252.36 125.50,245.12 C125.95,237.88 126.63,232.05 127.30,225.98 C127.97,219.91 128.78,208.71 129.50,208.71 C130.22,208.71 131.10,219.91 131.60,225.98 C132.10,232.05 132.12,237.88 132.50,245.12 C132.88,252.36 133.53,262.68 133.90,269.43 C134.27,276.18 134.35,281.25 134.70,285.60 C135.05,289.95 135.57,292.71 136.00,295.50 C136.43,298.29 136.83,300.39 137.30,302.32 C137.77,304.25 138.35,305.71 138.80,307.05 C139.25,308.39 139.60,309.53 140.00,310.35 C140.40,311.18 141.00,311.73 141.20,312.00 C141.40,312.27 141.20,312.00 141.20,312.00 Z" fill="#2d4e87" stroke="#050505" stroke-width="1.25" stroke-linejoin="round"/>
<rect x="60.50" y="196.40" width="116.50" height="115.60" fill="none" stroke="#111" stroke-width="1.4"/>
<line x1="57.50" y1="312.00" x2="60.50" y2="312.00" stroke="#111" stroke-width="1.1"/>
<text x="55.00" y="314.80" font-size="8" text-anchor="end" font-weight="normal" font-style="normal" fill="#1a1a1a" >0</text>
<line x1="57.50" y1="290.00" x2="60.50" y2="290.00" stroke="#111" stroke-width="1.1"/>
<text x="55.00" y="292.80" font-size="8" text-anchor="end" font-weight="normal" font-style="normal" fill="#1a1a1a" >20</text>
<line x1="57.50" y1="268.00" x2="60.50" y2="268.00" stroke="#111" stroke-width="1.1"/>
<text x="55.00" y="270.80" font-size="8" text-anchor="end" font-weight="normal" font-style="normal" fill="#1a1a1a" >40</text>
<line x1="57.50" y1="246.00" x2="60.50" y2="246.00" stroke="#111" stroke-width="1.1"/>
<text x="55.00" y="248.80" font-size="8" text-anchor="end" font-weight="normal" font-style="normal" fill="#1a1a1a" >60</text>
<line x1="57.50" y1="224.00" x2="60.50" y2="224.00" stroke="#111" stroke-width="1.1"/>
<text x="55.00" y="226.80" font-size="8" text-anchor="end" font-weight="normal" font-style="normal" fill="#1a1a1a" >80</text>
<line x1="57.50" y1="202.00" x2="60.50" y2="202.00" stroke="#111" stroke-width="1.1"/>
<text x="55.00" y="204.80" font-size="8" text-anchor="end" font-weight="normal" font-style="normal" fill="#1a1a1a" >100</text>
<line x1="59.00" y1="306.50" x2="60.50" y2="306.50" stroke="#111" stroke-width="0.8"/>
<line x1="59.00" y1="301.00" x2="60.50" y2="301.00" stroke="#111" stroke-width="0.8"/>
<line x1="59.00" y1="295.50" x2="60.50" y2="295.50" stroke="#111" stroke-width="0.8"/>
<line x1="59.00" y1="284.50" x2="60.50" y2="284.50" stroke="#111" stroke-width="0.8"/>
<line x1="59.00" y1="279.00" x2="60.50" y2="279.00" stroke="#111" stroke-width="0.8"/>
<line x1="59.00" y1="273.50" x2="60.50" y2="273.50" stroke="#111" stroke-width="0.8"/>
<line x1="59.00" y1="262.50" x2="60.50" y2="262.50" stroke="#111" stroke-width="0.8"/>
<line x1="59.00" y1="257.00" x2="60.50" y2="257.00" stroke="#111" stroke-width="0.8"/>
<line x1="59.00" y1="251.50" x2="60.50" y2="251.50" stroke="#111" stroke-width="0.8"/>
<line x1="59.00" y1="240.50" x2="60.50" y2="240.50" stroke="#111" stroke-width="0.8"/>
<line x1="59.00" y1="235.00" x2="60.50" y2="235.00" stroke="#111" stroke-width="0.8"/>
<line x1="59.00" y1="229.50" x2="60.50" y2="229.50" stroke="#111" stroke-width="0.8"/>
<line x1="59.00" y1="218.50" x2="60.50" y2="218.50" stroke="#111" stroke-width="0.8"/>
<line x1="59.00" y1="213.00" x2="60.50" y2="213.00" stroke="#111" stroke-width="0.8"/>
<line x1="59.00" y1="207.50" x2="60.50" y2="207.50" stroke="#111" stroke-width="0.8"/>
<line x1="68.70" y1="312.00" x2="68.70" y2="315.90" stroke="#111" stroke-width="1.5"/>
<line x1="86.70" y1="312.00" x2="86.70" y2="315.90" stroke="#111" stroke-width="1.5"/>
<line x1="106.30" y1="312.00" x2="106.30" y2="315.90" stroke="#111" stroke-width="1.5"/>
<line x1="137.00" y1="312.00" x2="137.00" y2="315.90" stroke="#111" stroke-width="1.5"/>
<line x1="164.50" y1="312.00" x2="164.50" y2="315.90" stroke="#111" stroke-width="1.5"/>
<line x1="115.54" y1="312.00" x2="115.54" y2="314.40" stroke="#111" stroke-width="0.85"/>
<line x1="145.28" y1="312.00" x2="145.28" y2="314.40" stroke="#111" stroke-width="0.85"/>
<line x1="120.95" y1="312.00" x2="120.95" y2="314.40" stroke="#111" stroke-width="0.85"/>
<line x1="150.12" y1="312.00" x2="150.12" y2="314.40" stroke="#111" stroke-width="0.85"/>
<line x1="124.78" y1="312.00" x2="124.78" y2="314.40" stroke="#111" stroke-width="0.85"/>
<line x1="153.56" y1="312.00" x2="153.56" y2="314.40" stroke="#111" stroke-width="0.85"/>
<line x1="127.76" y1="312.00" x2="127.76" y2="314.40" stroke="#111" stroke-width="0.85"/>
<line x1="156.22" y1="312.00" x2="156.22" y2="314.40" stroke="#111" stroke-width="0.85"/>
<line x1="130.19" y1="312.00" x2="130.19" y2="314.40" stroke="#111" stroke-width="0.85"/>
<line x1="158.40" y1="312.00" x2="158.40" y2="314.40" stroke="#111" stroke-width="0.85"/>
<line x1="132.24" y1="312.00" x2="132.24" y2="314.40" stroke="#111" stroke-width="0.85"/>
<line x1="160.24" y1="312.00" x2="160.24" y2="314.40" stroke="#111" stroke-width="0.85"/>
<line x1="134.02" y1="312.00" x2="134.02" y2="314.40" stroke="#111" stroke-width="0.85"/>
<line x1="161.83" y1="312.00" x2="161.83" y2="314.40" stroke="#111" stroke-width="0.85"/>
<line x1="135.60" y1="312.00" x2="135.60" y2="314.40" stroke="#111" stroke-width="0.85"/>
<line x1="163.24" y1="312.00" x2="163.24" y2="314.40" stroke="#111" stroke-width="0.85"/>
<line x1="172.78" y1="312.00" x2="172.78" y2="314.40" stroke="#111" stroke-width="0.85"/>
<line x1="89.81" y1="312.00" x2="89.81" y2="314.40" stroke="#111" stroke-width="0.85"/>
<line x1="83.85" y1="312.00" x2="83.85" y2="314.40" stroke="#111" stroke-width="0.85"/>
<line x1="92.11" y1="312.00" x2="92.11" y2="314.40" stroke="#111" stroke-width="0.85"/>
<line x1="81.73" y1="312.00" x2="81.73" y2="314.40" stroke="#111" stroke-width="0.85"/>
<line x1="94.18" y1="312.00" x2="94.18" y2="314.40" stroke="#111" stroke-width="0.85"/>
<line x1="79.83" y1="312.00" x2="79.83" y2="314.40" stroke="#111" stroke-width="0.85"/>
<line x1="96.12" y1="312.00" x2="96.12" y2="314.40" stroke="#111" stroke-width="0.85"/>
<line x1="78.05" y1="312.00" x2="78.05" y2="314.40" stroke="#111" stroke-width="0.85"/>
<line x1="97.96" y1="312.00" x2="97.96" y2="314.40" stroke="#111" stroke-width="0.85"/>
<line x1="76.36" y1="312.00" x2="76.36" y2="314.40" stroke="#111" stroke-width="0.85"/>
<line x1="99.72" y1="312.00" x2="99.72" y2="314.40" stroke="#111" stroke-width="0.85"/>
<line x1="74.74" y1="312.00" x2="74.74" y2="314.40" stroke="#111" stroke-width="0.85"/>
<line x1="101.43" y1="312.00" x2="101.43" y2="314.40" stroke="#111" stroke-width="0.85"/>
<line x1="73.17" y1="312.00" x2="73.17" y2="314.40" stroke="#111" stroke-width="0.85"/>
<line x1="103.10" y1="312.00" x2="103.10" y2="314.40" stroke="#111" stroke-width="0.85"/>
<line x1="71.64" y1="312.00" x2="71.64" y2="314.40" stroke="#111" stroke-width="0.85"/>
<line x1="104.72" y1="312.00" x2="104.72" y2="314.40" stroke="#111" stroke-width="0.85"/>
<line x1="70.16" y1="312.00" x2="70.16" y2="314.40" stroke="#111" stroke-width="0.85"/>
<line x1="63.16" y1="312.00" x2="63.16" y2="314.40" stroke="#111" stroke-width="0.85"/>
<text x="69.50" y="325.50" font-size="8" text-anchor="middle" fill="#1a1a1a">-10<tspan font-size="5.6" dy="-3.3">3</tspan></text>
<text x="87.00" y="325.50" font-size="8" text-anchor="middle" font-weight="normal" font-style="normal" fill="#1a1a1a" >0</text>
<text x="106.80" y="325.50" font-size="8" text-anchor="middle" fill="#1a1a1a">10<tspan font-size="5.6" dy="-3.3">3</tspan></text>
<text x="138.20" y="325.50" font-size="8" text-anchor="middle" fill="#1a1a1a">10<tspan font-size="5.6" dy="-3.3">4</tspan></text>
<text x="165.70" y="325.50" font-size="8" text-anchor="middle" fill="#1a1a1a">10<tspan font-size="5.6" dy="-3.3">5</tspan></text>
<path d="M250.00,312.00 C250.00,312.00 249.67,312.15 250.00,312.00 C250.33,311.85 251.33,311.58 252.00,311.12 C252.67,310.66 253.30,310.28 254.00,309.25 C254.70,308.23 255.43,306.71 256.20,304.97 C256.97,303.23 257.83,302.25 258.60,298.82 C259.37,295.40 260.08,289.22 260.80,284.44 C261.52,279.66 262.32,274.92 262.90,270.17 C263.48,265.41 263.87,260.27 264.30,255.89 C264.73,251.52 265.13,246.47 265.50,243.92 C265.87,241.38 266.05,241.38 266.50,240.63 C266.95,239.88 267.60,238.96 268.20,239.42 C268.80,239.88 269.67,240.63 270.10,243.38 C270.53,246.12 270.48,251.41 270.80,255.89 C271.12,260.38 271.55,264.58 272.00,270.28 C272.45,275.97 273.00,284.55 273.50,290.04 C274.00,295.53 274.42,299.56 275.00,303.22 C275.58,306.88 276.67,310.54 277.00,312.00 C277.33,313.46 277.00,312.00 277.00,312.00 Z" fill="#69ac46" stroke="#050505" stroke-width="1.25" stroke-linejoin="round"/>
<path d="M260.00,312.00 C260.00,312.00 259.75,312.09 260.00,312.00 C260.25,311.91 261.00,311.82 261.50,311.45 C262.00,311.09 262.42,310.48 263.00,309.80 C263.58,309.13 264.18,309.22 265.00,307.39 C265.82,305.56 267.13,302.65 267.90,298.82 C268.67,295.00 269.12,289.22 269.60,284.44 C270.08,279.66 270.48,274.92 270.80,270.17 C271.12,265.41 271.22,260.27 271.50,255.89 C271.78,251.52 271.90,248.10 272.50,243.92 C273.10,239.75 274.23,230.86 275.10,230.86 C275.97,230.86 277.10,239.75 277.70,243.92 C278.30,248.10 278.40,251.50 278.70,255.89 C279.00,260.28 279.20,264.95 279.50,270.28 C279.80,275.60 280.08,282.35 280.50,287.84 C280.92,293.33 281.42,299.19 282.00,303.22 C282.58,307.24 283.67,310.54 284.00,312.00 C284.33,313.46 284.00,312.00 284.00,312.00 Z" fill="#b80f2e" stroke="#050505" stroke-width="1.25" stroke-linejoin="round"/>
<path d="M268.00,312.00 C268.00,312.00 267.78,312.09 268.00,312.00 C268.22,311.91 268.80,311.82 269.30,311.45 C269.80,311.09 270.40,310.48 271.00,309.80 C271.60,309.13 272.10,309.22 272.90,307.39 C273.70,305.56 275.00,302.65 275.80,298.82 C276.60,295.00 277.22,289.22 277.70,284.44 C278.18,279.66 278.42,274.92 278.70,270.17 C278.98,265.41 279.05,260.27 279.40,255.89 C279.75,251.52 280.28,248.02 280.80,243.92 C281.32,239.82 281.97,231.30 282.50,231.30 C283.03,231.30 283.62,239.82 284.00,243.92 C284.38,248.02 284.50,251.52 284.80,255.89 C285.10,260.27 285.40,265.41 285.80,270.17 C286.20,274.92 286.45,279.66 287.20,284.44 C287.95,289.22 289.50,295.60 290.30,298.82 C291.10,302.04 291.47,302.58 292.00,303.76 C292.53,304.95 292.92,305.54 293.50,305.96 C294.08,306.38 294.83,306.47 295.50,306.29 C296.17,306.11 296.87,305.34 297.50,304.86 C298.13,304.39 298.72,303.16 299.30,303.44 C299.88,303.71 300.47,305.36 301.00,306.51 C301.53,307.66 302.00,309.44 302.50,310.35 C303.00,311.27 303.75,311.73 304.00,312.00 C304.25,312.27 304.00,312.00 304.00,312.00 Z" fill="#2d4e87" stroke="#050505" stroke-width="1.25" stroke-linejoin="round"/>
<rect x="211.30" y="196.60" width="116.20" height="115.40" fill="none" stroke="#111" stroke-width="1.4"/>
<line x1="208.30" y1="312.00" x2="211.30" y2="312.00" stroke="#111" stroke-width="1.1"/>
<text x="205.80" y="314.80" font-size="8" text-anchor="end" font-weight="normal" font-style="normal" fill="#1a1a1a" >0</text>
<line x1="208.30" y1="290.04" x2="211.30" y2="290.04" stroke="#111" stroke-width="1.1"/>
<text x="205.80" y="292.84" font-size="8" text-anchor="end" font-weight="normal" font-style="normal" fill="#1a1a1a" >20</text>
<line x1="208.30" y1="268.08" x2="211.30" y2="268.08" stroke="#111" stroke-width="1.1"/>
<text x="205.80" y="270.88" font-size="8" text-anchor="end" font-weight="normal" font-style="normal" fill="#1a1a1a" >40</text>
<line x1="208.30" y1="246.12" x2="211.30" y2="246.12" stroke="#111" stroke-width="1.1"/>
<text x="205.80" y="248.92" font-size="8" text-anchor="end" font-weight="normal" font-style="normal" fill="#1a1a1a" >60</text>
<line x1="208.30" y1="224.16" x2="211.30" y2="224.16" stroke="#111" stroke-width="1.1"/>
<text x="205.80" y="226.96" font-size="8" text-anchor="end" font-weight="normal" font-style="normal" fill="#1a1a1a" >80</text>
<line x1="208.30" y1="202.20" x2="211.30" y2="202.20" stroke="#111" stroke-width="1.1"/>
<text x="205.80" y="205.00" font-size="8" text-anchor="end" font-weight="normal" font-style="normal" fill="#1a1a1a" >100</text>
<line x1="209.80" y1="306.51" x2="211.30" y2="306.51" stroke="#111" stroke-width="0.8"/>
<line x1="209.80" y1="301.02" x2="211.30" y2="301.02" stroke="#111" stroke-width="0.8"/>
<line x1="209.80" y1="295.53" x2="211.30" y2="295.53" stroke="#111" stroke-width="0.8"/>
<line x1="209.80" y1="284.55" x2="211.30" y2="284.55" stroke="#111" stroke-width="0.8"/>
<line x1="209.80" y1="279.06" x2="211.30" y2="279.06" stroke="#111" stroke-width="0.8"/>
<line x1="209.80" y1="273.57" x2="211.30" y2="273.57" stroke="#111" stroke-width="0.8"/>
<line x1="209.80" y1="262.59" x2="211.30" y2="262.59" stroke="#111" stroke-width="0.8"/>
<line x1="209.80" y1="257.10" x2="211.30" y2="257.10" stroke="#111" stroke-width="0.8"/>
<line x1="209.80" y1="251.61" x2="211.30" y2="251.61" stroke="#111" stroke-width="0.8"/>
<line x1="209.80" y1="240.63" x2="211.30" y2="240.63" stroke="#111" stroke-width="0.8"/>
<line x1="209.80" y1="235.14" x2="211.30" y2="235.14" stroke="#111" stroke-width="0.8"/>
<line x1="209.80" y1="229.65" x2="211.30" y2="229.65" stroke="#111" stroke-width="0.8"/>
<line x1="209.80" y1="218.67" x2="211.30" y2="218.67" stroke="#111" stroke-width="0.8"/>
<line x1="209.80" y1="213.18" x2="211.30" y2="213.18" stroke="#111" stroke-width="0.8"/>
<line x1="209.80" y1="207.69" x2="211.30" y2="207.69" stroke="#111" stroke-width="0.8"/>
<line x1="219.50" y1="312.00" x2="219.50" y2="315.90" stroke="#111" stroke-width="1.5"/>
<line x1="237.50" y1="312.00" x2="237.50" y2="315.90" stroke="#111" stroke-width="1.5"/>
<line x1="257.10" y1="312.00" x2="257.10" y2="315.90" stroke="#111" stroke-width="1.5"/>
<line x1="287.80" y1="312.00" x2="287.80" y2="315.90" stroke="#111" stroke-width="1.5"/>
<line x1="315.30" y1="312.00" x2="315.30" y2="315.90" stroke="#111" stroke-width="1.5"/>
<line x1="266.34" y1="312.00" x2="266.34" y2="314.40" stroke="#111" stroke-width="0.85"/>
<line x1="296.08" y1="312.00" x2="296.08" y2="314.40" stroke="#111" stroke-width="0.85"/>
<line x1="271.75" y1="312.00" x2="271.75" y2="314.40" stroke="#111" stroke-width="0.85"/>
<line x1="300.92" y1="312.00" x2="300.92" y2="314.40" stroke="#111" stroke-width="0.85"/>
<line x1="275.58" y1="312.00" x2="275.58" y2="314.40" stroke="#111" stroke-width="0.85"/>
<line x1="304.36" y1="312.00" x2="304.36" y2="314.40" stroke="#111" stroke-width="0.85"/>
<line x1="278.56" y1="312.00" x2="278.56" y2="314.40" stroke="#111" stroke-width="0.85"/>
<line x1="307.02" y1="312.00" x2="307.02" y2="314.40" stroke="#111" stroke-width="0.85"/>
<line x1="280.99" y1="312.00" x2="280.99" y2="314.40" stroke="#111" stroke-width="0.85"/>
<line x1="309.20" y1="312.00" x2="309.20" y2="314.40" stroke="#111" stroke-width="0.85"/>
<line x1="283.04" y1="312.00" x2="283.04" y2="314.40" stroke="#111" stroke-width="0.85"/>
<line x1="311.04" y1="312.00" x2="311.04" y2="314.40" stroke="#111" stroke-width="0.85"/>
<line x1="284.82" y1="312.00" x2="284.82" y2="314.40" stroke="#111" stroke-width="0.85"/>
<line x1="312.63" y1="312.00" x2="312.63" y2="314.40" stroke="#111" stroke-width="0.85"/>
<line x1="286.40" y1="312.00" x2="286.40" y2="314.40" stroke="#111" stroke-width="0.85"/>
<line x1="314.04" y1="312.00" x2="314.04" y2="314.40" stroke="#111" stroke-width="0.85"/>
<line x1="323.58" y1="312.00" x2="323.58" y2="314.40" stroke="#111" stroke-width="0.85"/>
<line x1="240.61" y1="312.00" x2="240.61" y2="314.40" stroke="#111" stroke-width="0.85"/>
<line x1="234.65" y1="312.00" x2="234.65" y2="314.40" stroke="#111" stroke-width="0.85"/>
<line x1="242.91" y1="312.00" x2="242.91" y2="314.40" stroke="#111" stroke-width="0.85"/>
<line x1="232.53" y1="312.00" x2="232.53" y2="314.40" stroke="#111" stroke-width="0.85"/>
<line x1="244.98" y1="312.00" x2="244.98" y2="314.40" stroke="#111" stroke-width="0.85"/>
<line x1="230.63" y1="312.00" x2="230.63" y2="314.40" stroke="#111" stroke-width="0.85"/>
<line x1="246.92" y1="312.00" x2="246.92" y2="314.40" stroke="#111" stroke-width="0.85"/>
<line x1="228.85" y1="312.00" x2="228.85" y2="314.40" stroke="#111" stroke-width="0.85"/>
<line x1="248.76" y1="312.00" x2="248.76" y2="314.40" stroke="#111" stroke-width="0.85"/>
<line x1="227.16" y1="312.00" x2="227.16" y2="314.40" stroke="#111" stroke-width="0.85"/>
<line x1="250.52" y1="312.00" x2="250.52" y2="314.40" stroke="#111" stroke-width="0.85"/>
<line x1="225.54" y1="312.00" x2="225.54" y2="314.40" stroke="#111" stroke-width="0.85"/>
<line x1="252.23" y1="312.00" x2="252.23" y2="314.40" stroke="#111" stroke-width="0.85"/>
<line x1="223.97" y1="312.00" x2="223.97" y2="314.40" stroke="#111" stroke-width="0.85"/>
<line x1="253.90" y1="312.00" x2="253.90" y2="314.40" stroke="#111" stroke-width="0.85"/>
<line x1="222.44" y1="312.00" x2="222.44" y2="314.40" stroke="#111" stroke-width="0.85"/>
<line x1="255.52" y1="312.00" x2="255.52" y2="314.40" stroke="#111" stroke-width="0.85"/>
<line x1="220.96" y1="312.00" x2="220.96" y2="314.40" stroke="#111" stroke-width="0.85"/>
<line x1="213.96" y1="312.00" x2="213.96" y2="314.40" stroke="#111" stroke-width="0.85"/>
<text x="220.30" y="325.50" font-size="8" text-anchor="middle" fill="#1a1a1a">-10<tspan font-size="5.6" dy="-3.3">3</tspan></text>
<text x="237.80" y="325.50" font-size="8" text-anchor="middle" font-weight="normal" font-style="normal" fill="#1a1a1a" >0</text>
<text x="257.60" y="325.50" font-size="8" text-anchor="middle" fill="#1a1a1a">10<tspan font-size="5.6" dy="-3.3">3</tspan></text>
<text x="289.00" y="325.50" font-size="8" text-anchor="middle" fill="#1a1a1a">10<tspan font-size="5.6" dy="-3.3">4</tspan></text>
<text x="316.50" y="325.50" font-size="8" text-anchor="middle" fill="#1a1a1a">10<tspan font-size="5.6" dy="-3.3">5</tspan></text>
<path d="M395.50,312.20 C395.50,312.20 395.08,312.31 395.50,312.20 C395.92,312.09 397.17,311.87 398.00,311.54 C398.83,311.21 399.80,310.75 400.50,310.22 C401.20,309.69 401.68,309.21 402.20,308.35 C402.72,307.49 403.05,306.92 403.60,305.06 C404.15,303.19 404.85,301.10 405.50,297.14 C406.15,293.19 406.82,286.59 407.50,281.32 C408.18,276.04 408.92,270.77 409.60,265.49 C410.28,260.22 410.95,254.94 411.60,249.67 C412.25,244.39 412.97,238.71 413.50,233.84 C414.03,228.97 414.35,220.93 414.80,220.43 C415.25,219.94 415.83,228.22 416.20,230.87 C416.57,233.53 416.52,234.56 417.00,236.37 C417.48,238.18 418.62,239.54 419.10,241.75 C419.58,243.97 419.45,245.71 419.90,249.67 C420.35,253.62 421.15,260.22 421.80,265.49 C422.45,270.77 423.12,276.04 423.80,281.32 C424.48,286.59 425.37,293.19 425.90,297.14 C426.43,301.10 426.65,303.10 427.00,305.06 C427.35,307.02 427.67,307.71 428.00,308.90 C428.33,310.09 428.83,311.65 429.00,312.20 C429.17,312.75 429.00,312.20 429.00,312.20 Z" fill="#69ac46" stroke="#050505" stroke-width="1.25" stroke-linejoin="round"/>
<path d="M414.00,312.20 C414.00,312.20 413.55,312.38 414.00,312.20 C414.45,312.02 415.78,311.74 416.70,311.10 C417.62,310.46 418.45,309.16 419.50,308.35 C420.55,307.55 421.62,306.76 423.00,306.27 C424.38,305.77 426.48,305.46 427.80,305.39 C429.12,305.31 430.03,307.20 430.90,305.83 C431.77,304.45 432.42,301.23 433.00,297.14 C433.58,293.06 433.95,286.59 434.40,281.32 C434.85,276.04 435.27,270.77 435.70,265.49 C436.13,260.22 436.60,254.94 437.00,249.67 C437.40,244.39 437.53,238.99 438.10,233.84 C438.67,228.69 439.75,220.38 440.40,218.79 C441.05,217.19 441.52,221.77 442.00,224.28 C442.48,226.79 442.63,230.27 443.30,233.84 C443.97,237.41 445.30,240.89 446.00,245.71 C446.70,250.53 447.00,256.79 447.50,262.75 C448.00,268.70 448.50,275.38 449.00,281.43 C449.50,287.47 450.00,293.88 450.50,299.01 C451.00,304.14 451.75,310.00 452.00,312.20 C452.25,314.40 452.00,312.20 452.00,312.20 Z" fill="#b80f2e" stroke="#050505" stroke-width="1.25" stroke-linejoin="round"/>
<path d="M435.00,312.20 C435.00,312.20 434.62,312.29 435.00,312.20 C435.38,312.11 436.40,312.84 437.30,311.65 C438.20,310.46 439.48,307.47 440.40,305.06 C441.32,302.64 442.05,301.10 442.80,297.14 C443.55,293.19 444.37,286.59 444.90,281.32 C445.43,276.04 445.68,271.34 446.00,265.49 C446.32,259.65 446.40,251.54 446.80,246.26 C447.20,240.98 447.87,236.97 448.40,233.84 C448.93,230.71 449.48,227.47 450.00,227.47 C450.52,227.47 451.12,230.14 451.50,233.84 C451.88,237.54 452.03,244.39 452.30,249.67 C452.57,254.94 452.78,260.22 453.10,265.49 C453.42,270.77 453.80,276.04 454.20,281.32 C454.60,286.59 455.10,293.19 455.50,297.14 C455.90,301.10 456.18,302.91 456.60,305.06 C457.02,307.20 457.52,308.81 458.00,310.00 C458.48,311.19 459.25,311.83 459.50,312.20 C459.75,312.57 459.50,312.20 459.50,312.20 Z" fill="#2d4e87" stroke="#050505" stroke-width="1.25" stroke-linejoin="round"/>
<rect x="361.40" y="196.90" width="116.60" height="115.30" fill="none" stroke="#111" stroke-width="1.4"/>
<line x1="358.40" y1="312.20" x2="361.40" y2="312.20" stroke="#111" stroke-width="1.1"/>
<text x="355.90" y="315.00" font-size="8" text-anchor="end" font-weight="normal" font-style="normal" fill="#1a1a1a" >0</text>
<line x1="358.40" y1="290.22" x2="361.40" y2="290.22" stroke="#111" stroke-width="1.1"/>
<text x="355.90" y="293.02" font-size="8" text-anchor="end" font-weight="normal" font-style="normal" fill="#1a1a1a" >20</text>
<line x1="358.40" y1="268.24" x2="361.40" y2="268.24" stroke="#111" stroke-width="1.1"/>
<text x="355.90" y="271.04" font-size="8" text-anchor="end" font-weight="normal" font-style="normal" fill="#1a1a1a" >40</text>
<line x1="358.40" y1="246.26" x2="361.40" y2="246.26" stroke="#111" stroke-width="1.1"/>
<text x="355.90" y="249.06" font-size="8" text-anchor="end" font-weight="normal" font-style="normal" fill="#1a1a1a" >60</text>
<line x1="358.40" y1="224.28" x2="361.40" y2="224.28" stroke="#111" stroke-width="1.1"/>
<text x="355.90" y="227.08" font-size="8" text-anchor="end" font-weight="normal" font-style="normal" fill="#1a1a1a" >80</text>
<line x1="358.40" y1="202.30" x2="361.40" y2="202.30" stroke="#111" stroke-width="1.1"/>
<text x="355.90" y="205.10" font-size="8" text-anchor="end" font-weight="normal" font-style="normal" fill="#1a1a1a" >100</text>
<line x1="359.90" y1="306.70" x2="361.40" y2="306.70" stroke="#111" stroke-width="0.8"/>
<line x1="359.90" y1="301.21" x2="361.40" y2="301.21" stroke="#111" stroke-width="0.8"/>
<line x1="359.90" y1="295.71" x2="361.40" y2="295.71" stroke="#111" stroke-width="0.8"/>
<line x1="359.90" y1="284.73" x2="361.40" y2="284.73" stroke="#111" stroke-width="0.8"/>
<line x1="359.90" y1="279.23" x2="361.40" y2="279.23" stroke="#111" stroke-width="0.8"/>
<line x1="359.90" y1="273.74" x2="361.40" y2="273.74" stroke="#111" stroke-width="0.8"/>
<line x1="359.90" y1="262.75" x2="361.40" y2="262.75" stroke="#111" stroke-width="0.8"/>
<line x1="359.90" y1="257.25" x2="361.40" y2="257.25" stroke="#111" stroke-width="0.8"/>
<line x1="359.90" y1="251.75" x2="361.40" y2="251.75" stroke="#111" stroke-width="0.8"/>
<line x1="359.90" y1="240.76" x2="361.40" y2="240.76" stroke="#111" stroke-width="0.8"/>
<line x1="359.90" y1="235.27" x2="361.40" y2="235.27" stroke="#111" stroke-width="0.8"/>
<line x1="359.90" y1="229.78" x2="361.40" y2="229.78" stroke="#111" stroke-width="0.8"/>
<line x1="359.90" y1="218.79" x2="361.40" y2="218.79" stroke="#111" stroke-width="0.8"/>
<line x1="359.90" y1="213.29" x2="361.40" y2="213.29" stroke="#111" stroke-width="0.8"/>
<line x1="359.90" y1="207.80" x2="361.40" y2="207.80" stroke="#111" stroke-width="0.8"/>
<line x1="369.60" y1="312.20" x2="369.60" y2="316.10" stroke="#111" stroke-width="1.5"/>
<line x1="387.60" y1="312.20" x2="387.60" y2="316.10" stroke="#111" stroke-width="1.5"/>
<line x1="407.20" y1="312.20" x2="407.20" y2="316.10" stroke="#111" stroke-width="1.5"/>
<line x1="437.90" y1="312.20" x2="437.90" y2="316.10" stroke="#111" stroke-width="1.5"/>
<line x1="465.40" y1="312.20" x2="465.40" y2="316.10" stroke="#111" stroke-width="1.5"/>
<line x1="416.44" y1="312.20" x2="416.44" y2="314.60" stroke="#111" stroke-width="0.85"/>
<line x1="446.18" y1="312.20" x2="446.18" y2="314.60" stroke="#111" stroke-width="0.85"/>
<line x1="421.85" y1="312.20" x2="421.85" y2="314.60" stroke="#111" stroke-width="0.85"/>
<line x1="451.02" y1="312.20" x2="451.02" y2="314.60" stroke="#111" stroke-width="0.85"/>
<line x1="425.68" y1="312.20" x2="425.68" y2="314.60" stroke="#111" stroke-width="0.85"/>
<line x1="454.46" y1="312.20" x2="454.46" y2="314.60" stroke="#111" stroke-width="0.85"/>
<line x1="428.66" y1="312.20" x2="428.66" y2="314.60" stroke="#111" stroke-width="0.85"/>
<line x1="457.12" y1="312.20" x2="457.12" y2="314.60" stroke="#111" stroke-width="0.85"/>
<line x1="431.09" y1="312.20" x2="431.09" y2="314.60" stroke="#111" stroke-width="0.85"/>
<line x1="459.30" y1="312.20" x2="459.30" y2="314.60" stroke="#111" stroke-width="0.85"/>
<line x1="433.14" y1="312.20" x2="433.14" y2="314.60" stroke="#111" stroke-width="0.85"/>
<line x1="461.14" y1="312.20" x2="461.14" y2="314.60" stroke="#111" stroke-width="0.85"/>
<line x1="434.92" y1="312.20" x2="434.92" y2="314.60" stroke="#111" stroke-width="0.85"/>
<line x1="462.73" y1="312.20" x2="462.73" y2="314.60" stroke="#111" stroke-width="0.85"/>
<line x1="436.50" y1="312.20" x2="436.50" y2="314.60" stroke="#111" stroke-width="0.85"/>
<line x1="464.14" y1="312.20" x2="464.14" y2="314.60" stroke="#111" stroke-width="0.85"/>
<line x1="473.68" y1="312.20" x2="473.68" y2="314.60" stroke="#111" stroke-width="0.85"/>
<line x1="390.71" y1="312.20" x2="390.71" y2="314.60" stroke="#111" stroke-width="0.85"/>
<line x1="384.75" y1="312.20" x2="384.75" y2="314.60" stroke="#111" stroke-width="0.85"/>
<line x1="393.01" y1="312.20" x2="393.01" y2="314.60" stroke="#111" stroke-width="0.85"/>
<line x1="382.63" y1="312.20" x2="382.63" y2="314.60" stroke="#111" stroke-width="0.85"/>
<line x1="395.08" y1="312.20" x2="395.08" y2="314.60" stroke="#111" stroke-width="0.85"/>
<line x1="380.73" y1="312.20" x2="380.73" y2="314.60" stroke="#111" stroke-width="0.85"/>
<line x1="397.02" y1="312.20" x2="397.02" y2="314.60" stroke="#111" stroke-width="0.85"/>
<line x1="378.95" y1="312.20" x2="378.95" y2="314.60" stroke="#111" stroke-width="0.85"/>
<line x1="398.86" y1="312.20" x2="398.86" y2="314.60" stroke="#111" stroke-width="0.85"/>
<line x1="377.26" y1="312.20" x2="377.26" y2="314.60" stroke="#111" stroke-width="0.85"/>
<line x1="400.62" y1="312.20" x2="400.62" y2="314.60" stroke="#111" stroke-width="0.85"/>
<line x1="375.64" y1="312.20" x2="375.64" y2="314.60" stroke="#111" stroke-width="0.85"/>
<line x1="402.33" y1="312.20" x2="402.33" y2="314.60" stroke="#111" stroke-width="0.85"/>
<line x1="374.07" y1="312.20" x2="374.07" y2="314.60" stroke="#111" stroke-width="0.85"/>
<line x1="404.00" y1="312.20" x2="404.00" y2="314.60" stroke="#111" stroke-width="0.85"/>
<line x1="372.54" y1="312.20" x2="372.54" y2="314.60" stroke="#111" stroke-width="0.85"/>
<line x1="405.62" y1="312.20" x2="405.62" y2="314.60" stroke="#111" stroke-width="0.85"/>
<line x1="371.06" y1="312.20" x2="371.06" y2="314.60" stroke="#111" stroke-width="0.85"/>
<line x1="364.06" y1="312.20" x2="364.06" y2="314.60" stroke="#111" stroke-width="0.85"/>
<text x="370.40" y="325.70" font-size="8" text-anchor="middle" fill="#1a1a1a">-10<tspan font-size="5.6" dy="-3.3">3</tspan></text>
<text x="387.90" y="325.70" font-size="8" text-anchor="middle" font-weight="normal" font-style="normal" fill="#1a1a1a" >0</text>
<text x="407.70" y="325.70" font-size="8" text-anchor="middle" fill="#1a1a1a">10<tspan font-size="5.6" dy="-3.3">3</tspan></text>
<text x="439.10" y="325.70" font-size="8" text-anchor="middle" fill="#1a1a1a">10<tspan font-size="5.6" dy="-3.3">4</tspan></text>
<text x="466.60" y="325.70" font-size="8" text-anchor="middle" fill="#1a1a1a">10<tspan font-size="5.6" dy="-3.3">5</tspan></text>
<text x="65.00" y="339.60" font-size="10.6" text-anchor="start" font-weight="normal" font-style="normal" fill="#1a1a1a"  textLength="17.3" lengthAdjust="spacingAndGlyphs">PU.1</text>
<line x1="89.00" y1="336.80" x2="444.00" y2="336.80" stroke="#111" stroke-width="1.2"/>
<path d="M443,334.2 L449,336.8 L443,339.4 Z" fill="#111"/>
<rect x="201.00" y="347.20" width="9.60" height="7.00" fill="#69ac46"/>
<text x="214.00" y="353.60" font-size="7.7" text-anchor="start" font-weight="normal" font-style="normal" fill="#1a1a1a" >Isotype</text>
<rect x="258.20" y="347.20" width="9.00" height="7.00" fill="#b80f2e"/>
<text x="270.60" y="353.60" font-size="7.7" text-anchor="start" font-weight="normal" font-style="normal" fill="#1a1a1a" >th3/+</text>
<rect x="306.30" y="347.20" width="9.30" height="7.00" fill="#2d4e87"/>
<text x="318.70" y="353.60" font-size="7.7" text-anchor="start" font-weight="normal" font-style="normal" fill="#1a1a1a" >WT</text>
<line x1="61.70" y1="403.60" x2="61.70" y2="479.90" stroke="#111" stroke-width="1.3"/>
<line x1="61.10" y1="479.30" x2="158.50" y2="479.30" stroke="#111" stroke-width="1.3"/>
<line x1="58.70" y1="479.30" x2="61.70" y2="479.30" stroke="#111" stroke-width="1.1"/>
<text x="55.20" y="482.20" font-size="8" text-anchor="end" font-weight="normal" font-style="normal" fill="#1a1a1a" >0</text>
<line x1="58.70" y1="464.70" x2="61.70" y2="464.70" stroke="#111" stroke-width="1.1"/>
<text x="55.20" y="467.60" font-size="8" text-anchor="end" font-weight="normal" font-style="normal" fill="#1a1a1a" >1000</text>
<line x1="58.70" y1="450.10" x2="61.70" y2="450.10" stroke="#111" stroke-width="1.1"/>
<text x="55.20" y="453.00" font-size="8" text-anchor="end" font-weight="normal" font-style="normal" fill="#1a1a1a" >2000</text>
<line x1="58.70" y1="435.50" x2="61.70" y2="435.50" stroke="#111" stroke-width="1.1"/>
<text x="55.20" y="438.40" font-size="8" text-anchor="end" font-weight="normal" font-style="normal" fill="#1a1a1a" >3000</text>
<line x1="58.70" y1="420.90" x2="61.70" y2="420.90" stroke="#111" stroke-width="1.1"/>
<text x="55.20" y="423.80" font-size="8" text-anchor="end" font-weight="normal" font-style="normal" fill="#1a1a1a" >4000</text>
<line x1="58.70" y1="406.30" x2="61.70" y2="406.30" stroke="#111" stroke-width="1.1"/>
<text x="55.20" y="409.20" font-size="8" text-anchor="end" font-weight="normal" font-style="normal" fill="#1a1a1a" >5000</text>
<line x1="73.80" y1="479.30" x2="73.80" y2="481.80" stroke="#111" stroke-width="1.0"/>
<text x="73.80" y="492.20" font-size="8" text-anchor="middle" font-weight="normal" font-style="normal" fill="#1a1a1a" >WT</text>
<line x1="97.50" y1="479.30" x2="97.50" y2="481.80" stroke="#111" stroke-width="1.0"/>
<text x="97.50" y="492.20" font-size="8" text-anchor="middle" font-weight="normal" font-style="normal" fill="#1a1a1a" >th3/+</text>
<line x1="122.10" y1="479.30" x2="122.10" y2="481.80" stroke="#111" stroke-width="1.0"/>
<text x="122.10" y="492.20" font-size="8" text-anchor="middle" font-weight="normal" font-style="normal" fill="#1a1a1a" >WT</text>
<line x1="146.30" y1="479.30" x2="146.30" y2="481.80" stroke="#111" stroke-width="1.0"/>
<text x="146.30" y="492.20" font-size="8" text-anchor="middle" font-weight="normal" font-style="normal" fill="#1a1a1a" >th3/+</text>
<text x="87.20" y="504.70" font-size="8" text-anchor="middle" font-weight="normal" font-style="normal" fill="#1a1a1a" >BM</text>
<text x="135.40" y="504.70" font-size="8" text-anchor="middle" font-weight="normal" font-style="normal" fill="#1a1a1a" >Spleen</text>
<text x="110.25" y="518.50" font-size="10.6" text-anchor="middle" font-weight="normal" font-style="normal" fill="#1a1a1a"  textLength="44.7" lengthAdjust="spacingAndGlyphs">Neutrophils</text>
<text x="0" y="0" font-size="10.6" text-anchor="middle" fill="#1a1a1a" textLength="17.8" lengthAdjust="spacingAndGlyphs" transform="translate(30.80,454.40) rotate(-90)">PU.1</text>
<text x="0" y="0" font-size="10.069999999999999" text-anchor="middle" fill="#1a1a1a" textLength="5.1" lengthAdjust="spacingAndGlyphs" transform="translate(30.80,440.55) rotate(-90)">Δ</text>
<text x="0" y="0" font-size="10.6" text-anchor="middle" fill="#1a1a1a" textLength="15.1" lengthAdjust="spacingAndGlyphs" transform="translate(30.80,427.65) rotate(-90)">MFI</text>
<text x="119.40" y="395.60" font-size="7.4" fill="#1a1a1a" textLength="30.6" lengthAdjust="spacingAndGlyphs"><tspan font-style="italic">P</tspan> =0.033</text>
<path d="M119.80,408.10 L119.80,400.60 L148.70,400.60 L148.70,428.80" fill="none" stroke="#222" stroke-width="1.1"/>
<circle cx="122.10" cy="431.50" r="1.5" fill="#363f68" stroke="#1f2440" stroke-width="0.7"/>
<circle cx="122.10" cy="438.10" r="1.5" fill="#363f68" stroke="#1f2440" stroke-width="0.7"/>
<circle cx="119.10" cy="443.70" r="1.5" fill="#363f68" stroke="#1f2440" stroke-width="0.7"/>
<circle cx="125.00" cy="447.10" r="1.5" fill="#363f68" stroke="#1f2440" stroke-width="0.7"/>
<circle cx="122.10" cy="454.00" r="1.5" fill="#363f68" stroke="#1f2440" stroke-width="0.7"/>
<line x1="114.20" y1="442.90" x2="130.20" y2="442.90" stroke="#111" stroke-width="1.5"/>
<rect x="144.35" y="442.55" width="3.3" height="3.3" fill="#9e1234"/>
<rect x="144.35" y="448.95" width="3.3" height="3.3" fill="#9e1234"/>
<rect x="137.95" y="452.95" width="3.3" height="3.3" fill="#9e1234"/>
<rect x="150.65" y="451.85" width="3.3" height="3.3" fill="#9e1234"/>
<rect x="142.55" y="455.85" width="3.3" height="3.3" fill="#9e1234"/>
<rect x="146.65" y="455.85" width="3.3" height="3.3" fill="#9e1234"/>
<line x1="138.50" y1="453.80" x2="154.00" y2="453.80" stroke="#111" stroke-width="1.5"/>
<circle cx="67.80" cy="476.40" r="1.5" fill="#363f68" stroke="#1f2440" stroke-width="0.7"/>
<circle cx="70.50" cy="477.20" r="1.5" fill="#363f68" stroke="#1f2440" stroke-width="0.7"/>
<circle cx="73.80" cy="477.60" r="1.5" fill="#363f68" stroke="#1f2440" stroke-width="0.7"/>
<circle cx="77.00" cy="477.40" r="1.5" fill="#363f68" stroke="#1f2440" stroke-width="0.7"/>
<circle cx="80.00" cy="476.60" r="1.5" fill="#363f68" stroke="#1f2440" stroke-width="0.7"/>
<line x1="66.00" y1="477.30" x2="81.60" y2="477.30" stroke="#111" stroke-width="1.4"/>
<rect x="90.65" y="475.65" width="3.3" height="3.3" fill="#9e1234"/>
<rect x="93.35" y="473.25" width="3.3" height="3.3" fill="#9e1234"/>
<rect x="94.15" y="475.95" width="3.3" height="3.3" fill="#9e1234"/>
<rect x="97.95" y="475.95" width="3.3" height="3.3" fill="#9e1234"/>
<rect x="98.95" y="473.05" width="3.3" height="3.3" fill="#9e1234"/>
<rect x="101.75" y="475.65" width="3.3" height="3.3" fill="#9e1234"/>
<line x1="90.20" y1="476.70" x2="105.40" y2="476.70" stroke="#111" stroke-width="1.4"/>
<line x1="232.20" y1="403.80" x2="232.20" y2="479.60" stroke="#111" stroke-width="1.3"/>
<line x1="231.60" y1="479.00" x2="329.20" y2="479.00" stroke="#111" stroke-width="1.3"/>
<line x1="229.20" y1="479.00" x2="232.20" y2="479.00" stroke="#111" stroke-width="1.1"/>
<text x="225.70" y="481.90" font-size="8" text-anchor="end" font-weight="normal" font-style="normal" fill="#1a1a1a" >0</text>
<line x1="229.20" y1="464.48" x2="232.20" y2="464.48" stroke="#111" stroke-width="1.1"/>
<text x="225.70" y="467.38" font-size="8" text-anchor="end" font-weight="normal" font-style="normal" fill="#1a1a1a" >1000</text>
<line x1="229.20" y1="449.96" x2="232.20" y2="449.96" stroke="#111" stroke-width="1.1"/>
<text x="225.70" y="452.86" font-size="8" text-anchor="end" font-weight="normal" font-style="normal" fill="#1a1a1a" >2000</text>
<line x1="229.20" y1="435.44" x2="232.20" y2="435.44" stroke="#111" stroke-width="1.1"/>
<text x="225.70" y="438.34" font-size="8" text-anchor="end" font-weight="normal" font-style="normal" fill="#1a1a1a" >3000</text>
<line x1="229.20" y1="420.92" x2="232.20" y2="420.92" stroke="#111" stroke-width="1.1"/>
<text x="225.70" y="423.82" font-size="8" text-anchor="end" font-weight="normal" font-style="normal" fill="#1a1a1a" >4000</text>
<line x1="229.20" y1="406.40" x2="232.20" y2="406.40" stroke="#111" stroke-width="1.1"/>
<text x="225.70" y="409.30" font-size="8" text-anchor="end" font-weight="normal" font-style="normal" fill="#1a1a1a" >5000</text>
<line x1="244.60" y1="479.00" x2="244.60" y2="481.50" stroke="#111" stroke-width="1.0"/>
<text x="244.60" y="492.20" font-size="8" text-anchor="middle" font-weight="normal" font-style="normal" fill="#1a1a1a" >WT</text>
<line x1="268.60" y1="479.00" x2="268.60" y2="481.50" stroke="#111" stroke-width="1.0"/>
<text x="268.60" y="492.20" font-size="8" text-anchor="middle" font-weight="normal" font-style="normal" fill="#1a1a1a" >th3/+</text>
<line x1="292.90" y1="479.00" x2="292.90" y2="481.50" stroke="#111" stroke-width="1.0"/>
<text x="292.90" y="492.20" font-size="8" text-anchor="middle" font-weight="normal" font-style="normal" fill="#1a1a1a" >WT</text>
<line x1="316.80" y1="479.00" x2="316.80" y2="481.50" stroke="#111" stroke-width="1.0"/>
<text x="316.80" y="492.20" font-size="8" text-anchor="middle" font-weight="normal" font-style="normal" fill="#1a1a1a" >th3/+</text>
<text x="258.00" y="504.70" font-size="8" text-anchor="middle" font-weight="normal" font-style="normal" fill="#1a1a1a" >BM</text>
<text x="306.40" y="504.70" font-size="8" text-anchor="middle" font-weight="normal" font-style="normal" fill="#1a1a1a" >Spleen</text>
<text x="281.00" y="518.50" font-size="10.6" text-anchor="middle" font-weight="normal" font-style="normal" fill="#1a1a1a"  textLength="70.5" lengthAdjust="spacingAndGlyphs">Immature myeloid</text>
<text x="0" y="0" font-size="10.6" text-anchor="middle" fill="#1a1a1a" textLength="17.8" lengthAdjust="spacingAndGlyphs" transform="translate(201.90,454.70) rotate(-90)">PU.1</text>
<text x="0" y="0" font-size="10.069999999999999" text-anchor="middle" fill="#1a1a1a" textLength="5.1" lengthAdjust="spacingAndGlyphs" transform="translate(201.90,440.85) rotate(-90)">Δ</text>
<text x="0" y="0" font-size="10.6" text-anchor="middle" fill="#1a1a1a" textLength="15.1" lengthAdjust="spacingAndGlyphs" transform="translate(201.90,427.95) rotate(-90)">MFI</text>
<text x="289.50" y="395.40" font-size="7.4" fill="#1a1a1a" textLength="34.7" lengthAdjust="spacingAndGlyphs"><tspan font-style="italic">P</tspan>&lt; 0.0001</text>
<path d="M292.80,407.40 L292.80,399.90 L321.30,399.90 L321.30,433.40" fill="none" stroke="#222" stroke-width="1.1"/>
<circle cx="286.90" cy="414.80" r="1.5" fill="#363f68" stroke="#1f2440" stroke-width="0.7"/>
<circle cx="295.30" cy="412.60" r="1.5" fill="#363f68" stroke="#1f2440" stroke-width="0.7"/>
<circle cx="290.00" cy="419.10" r="1.5" fill="#363f68" stroke="#1f2440" stroke-width="0.7"/>
<circle cx="295.30" cy="421.90" r="1.5" fill="#363f68" stroke="#1f2440" stroke-width="0.7"/>
<circle cx="292.80" cy="427.90" r="1.5" fill="#363f68" stroke="#1f2440" stroke-width="0.7"/>
<line x1="285.20" y1="419.20" x2="300.60" y2="419.20" stroke="#111" stroke-width="1.5"/>
<rect x="312.15" y="445.85" width="3.3" height="3.3" fill="#9e1234"/>
<rect x="315.55" y="445.25" width="3.3" height="3.3" fill="#9e1234"/>
<rect x="309.45" y="453.95" width="3.3" height="3.3" fill="#9e1234"/>
<rect x="317.95" y="451.15" width="3.3" height="3.3" fill="#9e1234"/>
<rect x="320.45" y="455.15" width="3.3" height="3.3" fill="#9e1234"/>
<rect x="315.15" y="458.35" width="3.3" height="3.3" fill="#9e1234"/>
<line x1="308.50" y1="453.40" x2="324.60" y2="453.40" stroke="#111" stroke-width="1.5"/>
<circle cx="239.00" cy="475.60" r="1.5" fill="#363f68" stroke="#1f2440" stroke-width="0.7"/>
<circle cx="242.00" cy="477.00" r="1.5" fill="#363f68" stroke="#1f2440" stroke-width="0.7"/>
<circle cx="245.00" cy="477.50" r="1.5" fill="#363f68" stroke="#1f2440" stroke-width="0.7"/>
<circle cx="248.00" cy="477.30" r="1.5" fill="#363f68" stroke="#1f2440" stroke-width="0.7"/>
<circle cx="251.00" cy="476.80" r="1.5" fill="#363f68" stroke="#1f2440" stroke-width="0.7"/>
<line x1="237.20" y1="477.00" x2="252.00" y2="477.00" stroke="#111" stroke-width="1.4"/>
<rect x="261.55" y="475.65" width="3.3" height="3.3" fill="#9e1234"/>
<rect x="264.35" y="472.95" width="3.3" height="3.3" fill="#9e1234"/>
<rect x="265.15" y="475.95" width="3.3" height="3.3" fill="#9e1234"/>
<rect x="268.95" y="475.95" width="3.3" height="3.3" fill="#9e1234"/>
<rect x="269.75" y="472.75" width="3.3" height="3.3" fill="#9e1234"/>
<rect x="272.75" y="475.55" width="3.3" height="3.3" fill="#9e1234"/>
<line x1="261.30" y1="476.60" x2="276.30" y2="476.60" stroke="#111" stroke-width="1.4"/>
<line x1="408.20" y1="404.30" x2="408.20" y2="479.50" stroke="#111" stroke-width="1.3"/>
<line x1="407.60" y1="478.90" x2="505.20" y2="478.90" stroke="#111" stroke-width="1.3"/>
<line x1="405.20" y1="478.90" x2="408.20" y2="478.90" stroke="#111" stroke-width="1.1"/>
<text x="401.70" y="481.80" font-size="8" text-anchor="end" font-weight="normal" font-style="normal" fill="#1a1a1a" >0</text>
<line x1="405.20" y1="464.32" x2="408.20" y2="464.32" stroke="#111" stroke-width="1.1"/>
<text x="401.70" y="467.22" font-size="8" text-anchor="end" font-weight="normal" font-style="normal" fill="#1a1a1a" >5000</text>
<line x1="405.20" y1="449.74" x2="408.20" y2="449.74" stroke="#111" stroke-width="1.1"/>
<text x="401.70" y="452.64" font-size="8" text-anchor="end" font-weight="normal" font-style="normal" fill="#1a1a1a" >10000</text>
<line x1="405.20" y1="435.16" x2="408.20" y2="435.16" stroke="#111" stroke-width="1.1"/>
<text x="401.70" y="438.06" font-size="8" text-anchor="end" font-weight="normal" font-style="normal" fill="#1a1a1a" >15000</text>
<line x1="405.20" y1="420.58" x2="408.20" y2="420.58" stroke="#111" stroke-width="1.1"/>
<text x="401.70" y="423.48" font-size="8" text-anchor="end" font-weight="normal" font-style="normal" fill="#1a1a1a" >20000</text>
<line x1="405.20" y1="406.00" x2="408.20" y2="406.00" stroke="#111" stroke-width="1.1"/>
<text x="401.70" y="408.90" font-size="8" text-anchor="end" font-weight="normal" font-style="normal" fill="#1a1a1a" >25000</text>
<line x1="421.00" y1="478.90" x2="421.00" y2="481.40" stroke="#111" stroke-width="1.0"/>
<text x="421.00" y="492.20" font-size="8" text-anchor="middle" font-weight="normal" font-style="normal" fill="#1a1a1a" >WT</text>
<line x1="445.40" y1="478.90" x2="445.40" y2="481.40" stroke="#111" stroke-width="1.0"/>
<text x="445.40" y="492.20" font-size="8" text-anchor="middle" font-weight="normal" font-style="normal" fill="#1a1a1a" >th3/+</text>
<line x1="469.50" y1="478.90" x2="469.50" y2="481.40" stroke="#111" stroke-width="1.0"/>
<text x="469.50" y="492.20" font-size="8" text-anchor="middle" font-weight="normal" font-style="normal" fill="#1a1a1a" >WT</text>
<line x1="493.30" y1="478.90" x2="493.30" y2="481.40" stroke="#111" stroke-width="1.0"/>
<text x="493.30" y="492.20" font-size="8" text-anchor="middle" font-weight="normal" font-style="normal" fill="#1a1a1a" >th3/+</text>
<text x="434.50" y="504.70" font-size="8" text-anchor="middle" font-weight="normal" font-style="normal" fill="#1a1a1a" >BM</text>
<text x="483.10" y="504.70" font-size="8" text-anchor="middle" font-weight="normal" font-style="normal" fill="#1a1a1a" >Spleen</text>
<text x="457.50" y="518.50" font-size="10.6" text-anchor="middle" font-weight="normal" font-style="normal" fill="#1a1a1a"  textLength="42.0" lengthAdjust="spacingAndGlyphs">Monocytes</text>
<text x="0" y="0" font-size="10.6" text-anchor="middle" fill="#1a1a1a" textLength="17.8" lengthAdjust="spacingAndGlyphs" transform="translate(373.70,454.70) rotate(-90)">PU.1</text>
<text x="0" y="0" font-size="10.069999999999999" text-anchor="middle" fill="#1a1a1a" textLength="5.1" lengthAdjust="spacingAndGlyphs" transform="translate(373.70,440.85) rotate(-90)">Δ</text>
<text x="0" y="0" font-size="10.6" text-anchor="middle" fill="#1a1a1a" textLength="15.1" lengthAdjust="spacingAndGlyphs" transform="translate(373.70,427.95) rotate(-90)">MFI</text>
<text x="465.20" y="393.70" font-size="7.4" fill="#1a1a1a" textLength="30.6" lengthAdjust="spacingAndGlyphs"><tspan font-style="italic">P</tspan> =0.003</text>
<path d="M466.40,406.00 L466.40,398.40 L494.80,398.40 L494.80,432.00" fill="none" stroke="#222" stroke-width="1.1"/>
<circle cx="472.20" cy="416.50" r="1.5" fill="#363f68" stroke="#1f2440" stroke-width="0.7"/>
<circle cx="466.70" cy="420.40" r="1.5" fill="#363f68" stroke="#1f2440" stroke-width="0.7"/>
<circle cx="466.40" cy="427.20" r="1.5" fill="#363f68" stroke="#1f2440" stroke-width="0.7"/>
<circle cx="472.20" cy="429.50" r="1.5" fill="#363f68" stroke="#1f2440" stroke-width="0.7"/>
<circle cx="469.30" cy="438.20" r="1.5" fill="#363f68" stroke="#1f2440" stroke-width="0.7"/>
<line x1="461.20" y1="426.60" x2="477.50" y2="426.60" stroke="#111" stroke-width="1.5"/>
<rect x="489.25" y="435.05" width="3.3" height="3.3" fill="#9e1234"/>
<rect x="494.15" y="436.55" width="3.3" height="3.3" fill="#9e1234"/>
<rect x="485.25" y="438.95" width="3.3" height="3.3" fill="#9e1234"/>
<rect x="497.95" y="438.55" width="3.3" height="3.3" fill="#9e1234"/>
<rect x="493.95" y="441.85" width="3.3" height="3.3" fill="#9e1234"/>
<rect x="489.25" y="443.35" width="3.3" height="3.3" fill="#9e1234"/>
<line x1="485.40" y1="440.60" x2="501.30" y2="440.60" stroke="#111" stroke-width="1.5"/>
<circle cx="415.00" cy="476.20" r="1.5" fill="#363f68" stroke="#1f2440" stroke-width="0.7"/>
<circle cx="418.00" cy="477.20" r="1.5" fill="#363f68" stroke="#1f2440" stroke-width="0.7"/>
<circle cx="421.00" cy="477.60" r="1.5" fill="#363f68" stroke="#1f2440" stroke-width="0.7"/>
<circle cx="424.00" cy="477.30" r="1.5" fill="#363f68" stroke="#1f2440" stroke-width="0.7"/>
<circle cx="427.00" cy="476.50" r="1.5" fill="#363f68" stroke="#1f2440" stroke-width="0.7"/>
<line x1="413.30" y1="477.00" x2="428.30" y2="477.00" stroke="#111" stroke-width="1.4"/>
<rect x="437.35" y="475.35" width="3.3" height="3.3" fill="#9e1234"/>
<rect x="440.35" y="474.65" width="3.3" height="3.3" fill="#9e1234"/>
<rect x="443.65" y="475.75" width="3.3" height="3.3" fill="#9e1234"/>
<rect x="445.95" y="472.55" width="3.3" height="3.3" fill="#9e1234"/>
<rect x="449.25" y="474.95" width="3.3" height="3.3" fill="#9e1234"/>
<rect x="442.95" y="474.05" width="3.3" height="3.3" fill="#9e1234"/>
<line x1="437.50" y1="476.80" x2="453.00" y2="476.80" stroke="#111" stroke-width="1.4"/>
<rect x="68.10" y="610.90" width="16.60" height="8.90" fill="#2e4f8c"/>
<rect x="89.30" y="608.60" width="16.80" height="11.20" fill="#bb0f2e"/>
<rect x="118.80" y="572.50" width="17.00" height="47.30" fill="#2e4f8c"/>
<rect x="140.20" y="612.80" width="16.80" height="7.00" fill="#bb0f2e"/>
<line x1="76.40" y1="608.10" x2="76.40" y2="614.00" stroke="#0d1530" stroke-width="1.2"/>
<line x1="74.10" y1="608.10" x2="78.70" y2="608.10" stroke="#0d1530" stroke-width="1.2"/>
<line x1="74.10" y1="614.00" x2="78.70" y2="614.00" stroke="#0d1530" stroke-width="1.2"/>
<line x1="97.70" y1="606.40" x2="97.70" y2="611.50" stroke="#0d1530" stroke-width="1.2"/>
<line x1="95.40" y1="606.40" x2="100.00" y2="606.40" stroke="#0d1530" stroke-width="1.2"/>
<line x1="95.40" y1="611.50" x2="100.00" y2="611.50" stroke="#0d1530" stroke-width="1.2"/>
<line x1="127.30" y1="555.60" x2="127.30" y2="591.30" stroke="#0d1530" stroke-width="1.2"/>
<line x1="125.00" y1="555.60" x2="129.60" y2="555.60" stroke="#0d1530" stroke-width="1.2"/>
<line x1="125.00" y1="591.30" x2="129.60" y2="591.30" stroke="#0d1530" stroke-width="1.2"/>
<line x1="148.60" y1="611.20" x2="148.60" y2="614.60" stroke="#0d1530" stroke-width="1.2"/>
<line x1="146.30" y1="611.20" x2="150.90" y2="611.20" stroke="#0d1530" stroke-width="1.2"/>
<line x1="146.30" y1="614.60" x2="150.90" y2="614.60" stroke="#0d1530" stroke-width="1.2"/>
<line x1="61.80" y1="545.60" x2="61.80" y2="620.40" stroke="#111" stroke-width="1.3"/>
<line x1="61.20" y1="619.80" x2="160.80" y2="619.80" stroke="#111" stroke-width="1.3"/>
<line x1="58.80" y1="619.80" x2="61.80" y2="619.80" stroke="#111" stroke-width="1.1"/>
<text x="55.60" y="622.70" font-size="8" text-anchor="end" font-weight="normal" font-style="normal" fill="#1a1a1a" >0.0</text>
<line x1="58.80" y1="605.54" x2="61.80" y2="605.54" stroke="#111" stroke-width="1.1"/>
<text x="55.60" y="608.44" font-size="8" text-anchor="end" font-weight="normal" font-style="normal" fill="#1a1a1a" >0.4</text>
<line x1="58.80" y1="591.28" x2="61.80" y2="591.28" stroke="#111" stroke-width="1.1"/>
<text x="55.60" y="594.18" font-size="8" text-anchor="end" font-weight="normal" font-style="normal" fill="#1a1a1a" >0.8</text>
<line x1="58.80" y1="577.02" x2="61.80" y2="577.02" stroke="#111" stroke-width="1.1"/>
<text x="55.60" y="579.92" font-size="8" text-anchor="end" font-weight="normal" font-style="normal" fill="#1a1a1a" >1.2</text>
<line x1="58.80" y1="562.76" x2="61.80" y2="562.76" stroke="#111" stroke-width="1.1"/>
<text x="55.60" y="565.66" font-size="8" text-anchor="end" font-weight="normal" font-style="normal" fill="#1a1a1a" >1.6</text>
<line x1="58.80" y1="548.50" x2="61.80" y2="548.50" stroke="#111" stroke-width="1.1"/>
<text x="55.60" y="551.40" font-size="8" text-anchor="end" font-weight="normal" font-style="normal" fill="#1a1a1a" >2.0</text>
<line x1="87.00" y1="619.80" x2="87.00" y2="622.30" stroke="#111" stroke-width="1.0"/>
<text x="87.00" y="633.10" font-size="8" text-anchor="middle" font-weight="normal" font-style="normal" fill="#1a1a1a" >BM</text>
<line x1="137.80" y1="619.80" x2="137.80" y2="622.30" stroke="#111" stroke-width="1.0"/>
<text x="137.80" y="633.10" font-size="8" text-anchor="middle" font-weight="normal" font-style="normal" fill="#1a1a1a" >Spleen</text>
<text x="112.70" y="647.30" font-size="10.6" text-anchor="middle" font-weight="normal" font-style="normal" fill="#1a1a1a"  textLength="44.8" lengthAdjust="spacingAndGlyphs">Neutrophils</text>
<text x="0" y="0" font-size="10.6" text-anchor="middle" fill="#1a1a1a" textLength="50.3" lengthAdjust="spacingAndGlyphs" transform="translate(26.40,582.70) rotate(-90)">PU.1/GAPDH</text>
<text x="0" y="0" font-size="10.6" text-anchor="middle" fill="#1a1a1a" textLength="24.8" lengthAdjust="spacingAndGlyphs" transform="translate(38.60,582.70) rotate(-90)">mRNA</text>
<rect x="68.10" y="546.20" width="7.00" height="5.20" fill="#284a7c"/>
<text x="77.70" y="550.90" font-size="7.7" text-anchor="start" font-weight="normal" font-style="normal" fill="#1a1a1a" >WT</text>
<rect x="68.10" y="557.70" width="7.00" height="5.20" fill="#a80f2e"/>
<text x="77.70" y="562.40" font-size="7.7" text-anchor="start" font-weight="normal" font-style="normal" fill="#1a1a1a" >th3/+</text>
<text x="120.60" y="545.60" font-size="7.5" fill="#1a1a1a" textLength="36.5" lengthAdjust="spacingAndGlyphs"><tspan font-style="italic">P</tspan> = 0.0013</text>
<path d="M127.50,554.00 L127.50,550.30 L150.00,550.30 L150.00,554.00" fill="none" stroke="#222" stroke-width="1.1"/>
<rect x="238.80" y="610.20" width="17.70" height="9.60" fill="#2e4f8c"/>
<rect x="261.00" y="610.40" width="17.20" height="9.40" fill="#bb0f2e"/>
<rect x="291.50" y="588.10" width="17.50" height="31.70" fill="#2e4f8c"/>
<rect x="313.40" y="609.10" width="17.20" height="10.70" fill="#bb0f2e"/>
<line x1="247.65" y1="609.40" x2="247.65" y2="611.00" stroke="#0d1530" stroke-width="1.2"/>
<line x1="245.35" y1="609.40" x2="249.95" y2="609.40" stroke="#0d1530" stroke-width="1.2"/>
<line x1="245.35" y1="611.00" x2="249.95" y2="611.00" stroke="#0d1530" stroke-width="1.2"/>
<line x1="269.60" y1="609.40" x2="269.60" y2="611.00" stroke="#0d1530" stroke-width="1.2"/>
<line x1="267.30" y1="609.40" x2="271.90" y2="609.40" stroke="#0d1530" stroke-width="1.2"/>
<line x1="267.30" y1="611.00" x2="271.90" y2="611.00" stroke="#0d1530" stroke-width="1.2"/>
<line x1="300.25" y1="581.50" x2="300.25" y2="595.40" stroke="#0d1530" stroke-width="1.2"/>
<line x1="297.95" y1="581.50" x2="302.55" y2="581.50" stroke="#0d1530" stroke-width="1.2"/>
<line x1="297.95" y1="595.40" x2="302.55" y2="595.40" stroke="#0d1530" stroke-width="1.2"/>
<line x1="322.00" y1="607.50" x2="322.00" y2="610.60" stroke="#0d1530" stroke-width="1.2"/>
<line x1="319.70" y1="607.50" x2="324.30" y2="607.50" stroke="#0d1530" stroke-width="1.2"/>
<line x1="319.70" y1="610.60" x2="324.30" y2="610.60" stroke="#0d1530" stroke-width="1.2"/>
<line x1="232.50" y1="545.80" x2="232.50" y2="620.40" stroke="#111" stroke-width="1.3"/>
<line x1="231.90" y1="619.80" x2="338.40" y2="619.80" stroke="#111" stroke-width="1.3"/>
<line x1="229.50" y1="619.80" x2="232.50" y2="619.80" stroke="#111" stroke-width="1.1"/>
<text x="226.30" y="622.70" font-size="8" text-anchor="end" font-weight="normal" font-style="normal" fill="#1a1a1a" >0.0</text>
<line x1="229.50" y1="605.64" x2="232.50" y2="605.64" stroke="#111" stroke-width="1.1"/>
<text x="226.30" y="608.54" font-size="8" text-anchor="end" font-weight="normal" font-style="normal" fill="#1a1a1a" >0.2</text>
<line x1="229.50" y1="591.48" x2="232.50" y2="591.48" stroke="#111" stroke-width="1.1"/>
<text x="226.30" y="594.38" font-size="8" text-anchor="end" font-weight="normal" font-style="normal" fill="#1a1a1a" >0.4</text>
<line x1="229.50" y1="577.32" x2="232.50" y2="577.32" stroke="#111" stroke-width="1.1"/>
<text x="226.30" y="580.22" font-size="8" text-anchor="end" font-weight="normal" font-style="normal" fill="#1a1a1a" >0.6</text>
<line x1="229.50" y1="563.16" x2="232.50" y2="563.16" stroke="#111" stroke-width="1.1"/>
<text x="226.30" y="566.06" font-size="8" text-anchor="end" font-weight="normal" font-style="normal" fill="#1a1a1a" >0.8</text>
<line x1="229.50" y1="549.00" x2="232.50" y2="549.00" stroke="#111" stroke-width="1.1"/>
<text x="226.30" y="551.90" font-size="8" text-anchor="end" font-weight="normal" font-style="normal" fill="#1a1a1a" >1.0</text>
<line x1="258.30" y1="619.80" x2="258.30" y2="622.30" stroke="#111" stroke-width="1.0"/>
<text x="258.30" y="633.10" font-size="8" text-anchor="middle" font-weight="normal" font-style="normal" fill="#1a1a1a" >BM</text>
<line x1="311.40" y1="619.80" x2="311.40" y2="622.30" stroke="#111" stroke-width="1.0"/>
<text x="311.40" y="633.10" font-size="8" text-anchor="middle" font-weight="normal" font-style="normal" fill="#1a1a1a" >Spleen</text>
<text x="285.50" y="647.30" font-size="10.6" text-anchor="middle" font-weight="normal" font-style="normal" fill="#1a1a1a"  textLength="71.0" lengthAdjust="spacingAndGlyphs">Immature myeloid</text>
<text x="0" y="0" font-size="10.6" text-anchor="middle" fill="#1a1a1a" textLength="50.3" lengthAdjust="spacingAndGlyphs" transform="translate(197.40,582.80) rotate(-90)">PU.1/GAPDH</text>
<text x="0" y="0" font-size="10.6" text-anchor="middle" fill="#1a1a1a" textLength="24.8" lengthAdjust="spacingAndGlyphs" transform="translate(209.30,582.80) rotate(-90)">mRNA</text>
<text x="295.20" y="570.60" font-size="7.4" fill="#1a1a1a" textLength="32.1" lengthAdjust="spacingAndGlyphs"><tspan font-style="italic">P</tspan> = 0.014</text>
<path d="M299.70,578.10 L299.70,574.80 L324.00,574.80 L324.00,578.10" fill="none" stroke="#222" stroke-width="1.1"/>
<rect x="415.60" y="608.50" width="16.90" height="11.50" fill="#2e4f8c"/>
<rect x="437.20" y="607.80" width="16.90" height="12.20" fill="#bb0f2e"/>
<rect x="467.80" y="585.80" width="16.50" height="34.20" fill="#2e4f8c"/>
<rect x="489.20" y="611.00" width="16.70" height="9.00" fill="#bb0f2e"/>
<line x1="424.05" y1="604.70" x2="424.05" y2="612.70" stroke="#0d1530" stroke-width="1.2"/>
<line x1="421.75" y1="604.70" x2="426.35" y2="604.70" stroke="#0d1530" stroke-width="1.2"/>
<line x1="421.75" y1="612.70" x2="426.35" y2="612.70" stroke="#0d1530" stroke-width="1.2"/>
<line x1="445.65" y1="604.20" x2="445.65" y2="611.60" stroke="#0d1530" stroke-width="1.2"/>
<line x1="443.35" y1="604.20" x2="447.95" y2="604.20" stroke="#0d1530" stroke-width="1.2"/>
<line x1="443.35" y1="611.60" x2="447.95" y2="611.60" stroke="#0d1530" stroke-width="1.2"/>
<line x1="476.05" y1="571.40" x2="476.05" y2="601.10" stroke="#0d1530" stroke-width="1.2"/>
<line x1="473.75" y1="571.40" x2="478.35" y2="571.40" stroke="#0d1530" stroke-width="1.2"/>
<line x1="473.75" y1="601.10" x2="478.35" y2="601.10" stroke="#0d1530" stroke-width="1.2"/>
<line x1="497.55" y1="608.50" x2="497.55" y2="613.20" stroke="#0d1530" stroke-width="1.2"/>
<line x1="495.25" y1="608.50" x2="499.85" y2="608.50" stroke="#0d1530" stroke-width="1.2"/>
<line x1="495.25" y1="613.20" x2="499.85" y2="613.20" stroke="#0d1530" stroke-width="1.2"/>
<line x1="408.40" y1="545.80" x2="408.40" y2="620.60" stroke="#111" stroke-width="1.3"/>
<line x1="407.80" y1="620.00" x2="512.90" y2="620.00" stroke="#111" stroke-width="1.3"/>
<line x1="405.40" y1="620.00" x2="408.40" y2="620.00" stroke="#111" stroke-width="1.1"/>
<text x="402.20" y="622.90" font-size="8" text-anchor="end" font-weight="normal" font-style="normal" fill="#1a1a1a" >0.0</text>
<line x1="405.40" y1="605.74" x2="408.40" y2="605.74" stroke="#111" stroke-width="1.1"/>
<text x="402.20" y="608.64" font-size="8" text-anchor="end" font-weight="normal" font-style="normal" fill="#1a1a1a" >0.4</text>
<line x1="405.40" y1="591.48" x2="408.40" y2="591.48" stroke="#111" stroke-width="1.1"/>
<text x="402.20" y="594.38" font-size="8" text-anchor="end" font-weight="normal" font-style="normal" fill="#1a1a1a" >0.8</text>
<line x1="405.40" y1="577.22" x2="408.40" y2="577.22" stroke="#111" stroke-width="1.1"/>
<text x="402.20" y="580.12" font-size="8" text-anchor="end" font-weight="normal" font-style="normal" fill="#1a1a1a" >1.2</text>
<line x1="405.40" y1="562.96" x2="408.40" y2="562.96" stroke="#111" stroke-width="1.1"/>
<text x="402.20" y="565.86" font-size="8" text-anchor="end" font-weight="normal" font-style="normal" fill="#1a1a1a" >1.6</text>
<line x1="405.40" y1="548.70" x2="408.40" y2="548.70" stroke="#111" stroke-width="1.1"/>
<text x="402.20" y="551.60" font-size="8" text-anchor="end" font-weight="normal" font-style="normal" fill="#1a1a1a" >2.0</text>
<line x1="434.40" y1="620.00" x2="434.40" y2="622.50" stroke="#111" stroke-width="1.0"/>
<text x="434.40" y="633.10" font-size="8" text-anchor="middle" font-weight="normal" font-style="normal" fill="#1a1a1a" >BM</text>
<line x1="486.80" y1="620.00" x2="486.80" y2="622.50" stroke="#111" stroke-width="1.0"/>
<text x="486.80" y="633.10" font-size="8" text-anchor="middle" font-weight="normal" font-style="normal" fill="#1a1a1a" >Spleen</text>
<text x="461.20" y="647.30" font-size="10.6" text-anchor="middle" font-weight="normal" font-style="normal" fill="#1a1a1a"  textLength="42.4" lengthAdjust="spacingAndGlyphs">Monocytes</text>
<text x="0" y="0" font-size="10.6" text-anchor="middle" fill="#1a1a1a" textLength="50.3" lengthAdjust="spacingAndGlyphs" transform="translate(374.50,582.60) rotate(-90)">PU.1/GAPDH</text>
<text x="0" y="0" font-size="10.6" text-anchor="middle" fill="#1a1a1a" textLength="24.8" lengthAdjust="spacingAndGlyphs" transform="translate(386.00,582.60) rotate(-90)">mRNA</text>
<text x="468.50" y="558.80" font-size="7.5" fill="#1a1a1a" textLength="37.6" lengthAdjust="spacingAndGlyphs"><tspan font-style="italic">P</tspan> = 0.0116</text>
<path d="M475.40,565.70 L475.40,562.30 L498.50,562.30 L498.50,565.70" fill="none" stroke="#222" stroke-width="1.1"/>
<rect x="0" y="0" width="520" height="657" fill="none" stroke="#000" stroke-width="3"/>
</svg>
</body></html>
